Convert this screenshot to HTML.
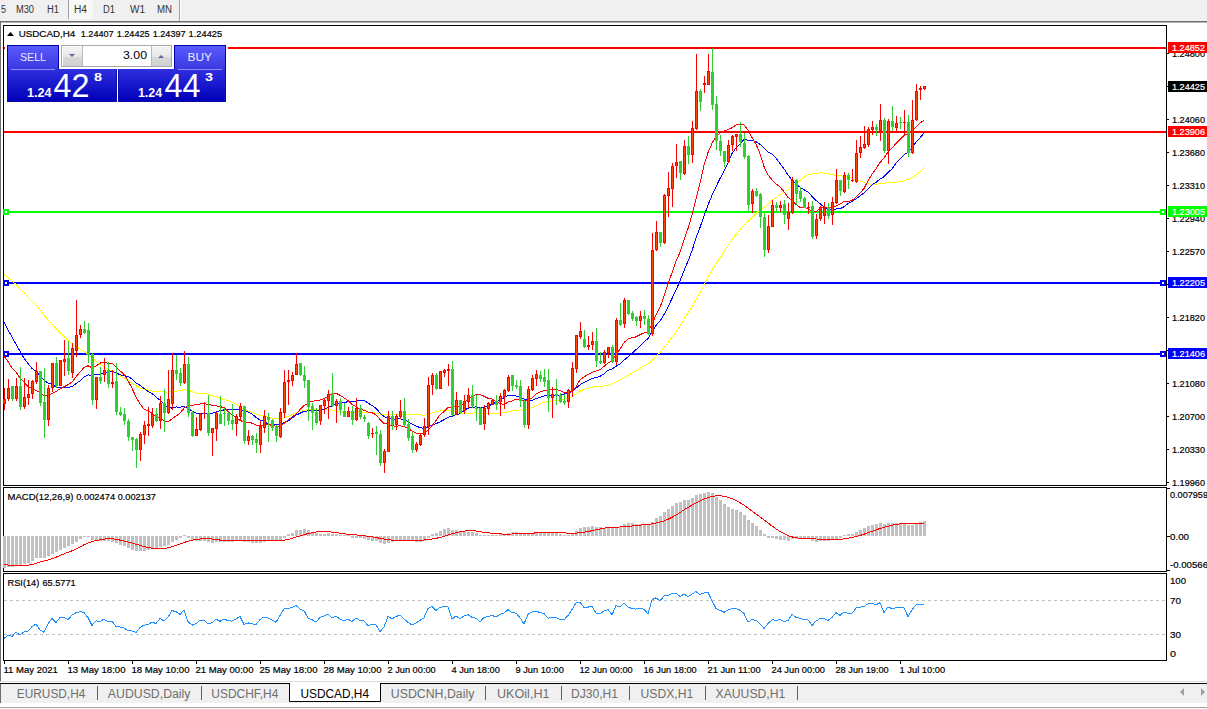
<!DOCTYPE html>
<html><head><meta charset="utf-8"><style>
html,body{margin:0;padding:0;background:#fff;}
body{width:1207px;height:709px;overflow:hidden;}
svg{display:block;font-family:"Liberation Sans", sans-serif;}
</style></head><body>
<svg width="1207" height="709" viewBox="0 0 1207 709">
<rect x="0" y="0" width="1207" height="709" fill="#ffffff"/>
<defs><linearGradient id="gtop" x1="0" y1="0" x2="0" y2="1"><stop offset="0" stop-color="#5a5aff"/><stop offset="1" stop-color="#3a3ae0"/></linearGradient><linearGradient id="gbot" x1="0" y1="0" x2="0" y2="1"><stop offset="0" stop-color="#3030e0"/><stop offset="1" stop-color="#0000b8"/></linearGradient><linearGradient id="gbtn" x1="0" y1="0" x2="0" y2="1"><stop offset="0" stop-color="#f4f4f4"/><stop offset="0.5" stop-color="#e6e6e6"/><stop offset="0.55" stop-color="#d8d8d8"/><stop offset="1" stop-color="#d0d0d0"/></linearGradient><pattern id="dash" x="4" y="0" width="6" height="1" patternUnits="userSpaceOnUse"><rect x="0" y="0" width="3" height="1" fill="#c0c0c0"/></pattern><pattern id="dither" x="0" y="0" width="2" height="2" patternUnits="userSpaceOnUse"><rect x="0" y="0" width="2" height="2" fill="#f0f0f0"/><rect x="0" y="0" width="1" height="1" fill="#ffffff"/><rect x="1" y="1" width="1" height="1" fill="#ffffff"/></pattern></defs>
<rect x="0" y="0" width="1207" height="21" fill="#f0f0f0"/>
<rect x="68" y="0" width="1" height="19" fill="#a0a0a0"/>
<rect x="69" y="0" width="24" height="19" fill="url(#dither)"/>
<rect x="179" y="0" width="1" height="21" fill="#a0a0a0"/>
<rect x="180" y="0" width="1" height="21" fill="#ffffff"/>
<rect x="0" y="21" width="1207" height="1" fill="#6e6e6e"/>
<rect x="0" y="22" width="1207" height="1" fill="#b4b4b4"/>
<text x="1" y="13" font-size="10" fill="#333" text-anchor="start" font-weight="normal" textLength="5.0" lengthAdjust="spacingAndGlyphs">5</text>
<text x="16" y="13" font-size="10" fill="#333" text-anchor="start" font-weight="normal" textLength="18.0" lengthAdjust="spacingAndGlyphs">M30</text>
<text x="47" y="13" font-size="10" fill="#333" text-anchor="start" font-weight="normal" textLength="12.0" lengthAdjust="spacingAndGlyphs">H1</text>
<text x="74" y="13" font-size="10" fill="#333" text-anchor="start" font-weight="normal" textLength="13.0" lengthAdjust="spacingAndGlyphs">H4</text>
<text x="103" y="13" font-size="10" fill="#333" text-anchor="start" font-weight="normal" textLength="12.0" lengthAdjust="spacingAndGlyphs">D1</text>
<text x="130" y="13" font-size="10" fill="#333" text-anchor="start" font-weight="normal" textLength="15.0" lengthAdjust="spacingAndGlyphs">W1</text>
<text x="157" y="13" font-size="10" fill="#333" text-anchor="start" font-weight="normal" textLength="15.0" lengthAdjust="spacingAndGlyphs">MN</text>
<rect x="0" y="22" width="1" height="659" fill="#6e6e6e"/>
<rect x="3.5" y="25.5" width="1163" height="460" fill="none" stroke="#000" stroke-width="1"/>
<rect x="3.5" y="487.5" width="1163" height="84" fill="none" stroke="#000" stroke-width="1"/>
<rect x="3.5" y="573.5" width="1163" height="87" fill="none" stroke="#000" stroke-width="1"/>
<rect x="1167" y="53" width="2" height="1" fill="#000"/>
<text x="1172" y="57" font-size="9.5" fill="#000" stroke="#000" stroke-width="0.2" text-anchor="start" font-weight="normal" textLength="33.0" lengthAdjust="spacingAndGlyphs">1.24800</text>
<rect x="1167" y="86" width="2" height="1" fill="#000"/>
<text x="1172" y="90" font-size="9.5" fill="#000" stroke="#000" stroke-width="0.2" text-anchor="start" font-weight="normal" textLength="33.0" lengthAdjust="spacingAndGlyphs">1.24430</text>
<rect x="1167" y="119" width="2" height="1" fill="#000"/>
<text x="1172" y="123" font-size="9.5" fill="#000" stroke="#000" stroke-width="0.2" text-anchor="start" font-weight="normal" textLength="33.0" lengthAdjust="spacingAndGlyphs">1.24060</text>
<rect x="1167" y="152" width="2" height="1" fill="#000"/>
<text x="1172" y="156" font-size="9.5" fill="#000" stroke="#000" stroke-width="0.2" text-anchor="start" font-weight="normal" textLength="33.0" lengthAdjust="spacingAndGlyphs">1.23680</text>
<rect x="1167" y="185" width="2" height="1" fill="#000"/>
<text x="1172" y="189" font-size="9.5" fill="#000" stroke="#000" stroke-width="0.2" text-anchor="start" font-weight="normal" textLength="33.0" lengthAdjust="spacingAndGlyphs">1.23310</text>
<rect x="1167" y="218" width="2" height="1" fill="#000"/>
<text x="1172" y="222" font-size="9.5" fill="#000" stroke="#000" stroke-width="0.2" text-anchor="start" font-weight="normal" textLength="33.0" lengthAdjust="spacingAndGlyphs">1.22940</text>
<rect x="1167" y="251" width="2" height="1" fill="#000"/>
<text x="1172" y="255" font-size="9.5" fill="#000" stroke="#000" stroke-width="0.2" text-anchor="start" font-weight="normal" textLength="33.0" lengthAdjust="spacingAndGlyphs">1.22570</text>
<rect x="1167" y="284" width="2" height="1" fill="#000"/>
<text x="1172" y="288" font-size="9.5" fill="#000" stroke="#000" stroke-width="0.2" text-anchor="start" font-weight="normal" textLength="33.0" lengthAdjust="spacingAndGlyphs">1.22200</text>
<rect x="1167" y="317" width="2" height="1" fill="#000"/>
<text x="1172" y="321" font-size="9.5" fill="#000" stroke="#000" stroke-width="0.2" text-anchor="start" font-weight="normal" textLength="33.0" lengthAdjust="spacingAndGlyphs">1.21820</text>
<rect x="1167" y="350" width="2" height="1" fill="#000"/>
<text x="1172" y="354" font-size="9.5" fill="#000" stroke="#000" stroke-width="0.2" text-anchor="start" font-weight="normal" textLength="33.0" lengthAdjust="spacingAndGlyphs">1.21450</text>
<rect x="1167" y="383" width="2" height="1" fill="#000"/>
<text x="1172" y="387" font-size="9.5" fill="#000" stroke="#000" stroke-width="0.2" text-anchor="start" font-weight="normal" textLength="33.0" lengthAdjust="spacingAndGlyphs">1.21080</text>
<rect x="1167" y="416" width="2" height="1" fill="#000"/>
<text x="1172" y="420" font-size="9.5" fill="#000" stroke="#000" stroke-width="0.2" text-anchor="start" font-weight="normal" textLength="33.0" lengthAdjust="spacingAndGlyphs">1.20700</text>
<rect x="1167" y="449" width="2" height="1" fill="#000"/>
<text x="1172" y="453" font-size="9.5" fill="#000" stroke="#000" stroke-width="0.2" text-anchor="start" font-weight="normal" textLength="33.0" lengthAdjust="spacingAndGlyphs">1.20330</text>
<rect x="1167" y="482" width="2" height="1" fill="#000"/>
<text x="1172" y="486" font-size="9.5" fill="#000" stroke="#000" stroke-width="0.2" text-anchor="start" font-weight="normal" textLength="33.0" lengthAdjust="spacingAndGlyphs">1.19960</text>
<g shape-rendering="crispEdges"><rect x="4" y="47" width="1162" height="2" fill="#ff0000"/><rect x="4" y="131" width="1162" height="2" fill="#ff0000"/><rect x="4" y="211" width="1162" height="2" fill="#00ff00"/><rect x="3" y="209" width="6" height="6" fill="#00ff00"/><rect x="5" y="211" width="2" height="2" fill="#fff"/><rect x="1160" y="209" width="6" height="6" fill="#00ff00"/><rect x="1162" y="211" width="2" height="2" fill="#fff"/><rect x="4" y="282" width="1162" height="2" fill="#0000ff"/><rect x="3" y="280" width="6" height="6" fill="#0000ff"/><rect x="5" y="282" width="2" height="2" fill="#fff"/><rect x="1160" y="280" width="6" height="6" fill="#0000ff"/><rect x="1162" y="282" width="2" height="2" fill="#fff"/><rect x="4" y="353" width="1162" height="2" fill="#0000ff"/><rect x="3" y="351" width="6" height="6" fill="#0000ff"/><rect x="5" y="353" width="2" height="2" fill="#fff"/><rect x="1160" y="351" width="6" height="6" fill="#0000ff"/><rect x="1162" y="353" width="2" height="2" fill="#fff"/></g>
<g shape-rendering="crispEdges"><polyline points="4,274.6 8,277.5 12,281.2 16,284.5 20,288.8 24,292.7 28,297.1 32,300.9 36,305.0 40,309.7 44,315.3 48,319.8 52,324.1 56,328.6 60,332.7 64,336.4 68,340.5 72,343.6 76,346.5 80,348.8 84,351.4 88,354.1 92,358.2 96,361.2 100,364.4 104,366.6 108,369.2 112,371.0 116,373.6 120,375.7 124,378.2 128,380.6 132,383.3 136,385.7 140,387.9 144,389.2 148,390.5 152,391.0 156,391.7 160,391.5 164,391.9 168,392.2 172,391.4 176,391.1 180,390.5 184,389.7 188,390.2 192,391.5 196,393.0 200,393.2 204,393.1 208,394.2 212,395.8 216,396.5 220,398.1 224,399.5 228,400.7 232,402.6 236,404.6 240,406.6 244,409.3 248,411.3 252,412.3 256,414.0 260,415.1 264,416.2 268,417.2 272,418.3 276,418.9 280,418.9 284,417.9 288,416.4 292,414.8 296,412.7 300,411.2 304,410.1 308,409.7 312,409.7 316,409.7 320,409.8 324,409.4 328,409.3 332,410.2 336,410.9 340,411.5 344,412.9 348,412.8 352,412.4 356,411.9 360,412.0 364,412.2 368,412.2 372,412.3 376,412.9 380,413.9 384,414.8 388,414.6 392,414.7 396,414.7 400,414.8 404,414.4 408,414.5 412,414.7 416,414.7 420,414.9 424,415.2 428,414.3 432,413.0 436,411.8 440,410.8 444,410.5 448,410.2 452,411.2 456,412.1 460,413.1 464,413.6 468,413.3 472,413.1 476,412.8 480,413.3 484,413.5 488,413.7 492,413.6 496,413.7 500,413.3 504,412.6 508,411.8 512,410.9 516,410.4 520,410.0 524,410.1 528,409.0 532,407.6 536,406.1 540,404.0 544,402.2 548,401.8 552,401.0 556,400.5 560,400.3 564,399.7 568,398.5 572,396.5 576,393.8 580,391.2 584,389.2 588,388.2 592,387.3 596,386.7 600,386.5 604,386.0 608,385.5 612,384.1 616,382.1 620,379.9 624,377.4 628,375.4 632,373.2 636,371.0 640,368.3 644,366.0 648,364.3 652,360.5 656,356.2 660,352.4 664,347.5 668,342.8 672,337.3 676,331.7 680,326.0 684,319.0 688,313.2 692,306.9 696,299.8 700,292.9 704,285.4 708,277.3 712,270.1 716,263.7 720,257.4 724,251.4 728,245.2 732,239.4 736,234.4 740,229.7 744,224.9 748,221.4 752,217.7 756,213.5 760,209.9 764,207.3 768,204.3 772,200.4 776,197.6 780,194.6 784,192.5 788,189.9 792,186.4 796,183.2 800,180.3 804,177.5 808,174.4 812,174.0 816,173.7 820,172.8 824,173.1 828,173.8 832,174.7 836,175.2 840,175.6 844,176.3 848,177.0 852,178.3 856,179.8 860,181.0 864,182.5 868,183.9 872,184.5 876,184.2 880,183.5 884,183.2 888,182.6 892,182.4 896,182.1 900,181.6 904,180.7 908,179.4 912,177.7 916,175.0 920,171.8 924,167.7" fill="none" stroke="#ffff00" stroke-width="1"/><polyline points="4,322.2 8,329.8 12,337.1 16,344.2 20,351.3 24,358.1 28,363.6 32,368.4 36,371.3 40,375.8 44,380.1 48,383.2 52,384.3 56,386.9 60,387.3 64,387.7 68,387.6 72,386.5 76,383.7 80,380.8 84,377.0 88,374.9 92,375.5 96,374.4 100,374.2 104,372.4 108,371.8 112,371.2 116,372.7 120,374.7 124,375.6 128,376.4 132,378.9 136,383.0 140,385.3 144,388.4 148,391.5 152,393.5 156,397.0 160,400.2 164,404.3 168,407.4 172,408.1 176,406.9 180,407.2 184,406.4 188,408.4 192,410.9 196,413.1 200,413.2 204,413.2 208,413.7 212,413.3 216,412.0 220,410.8 224,409.9 228,409.7 232,409.7 236,409.8 240,409.0 244,410.9 248,411.9 252,413.9 256,417.4 260,419.9 264,421.4 268,424.1 272,424.8 276,424.9 280,424.1 284,422.5 288,421.0 292,418.2 296,415.1 300,413.3 304,411.3 308,410.9 312,410.5 316,410.5 320,410.0 324,409.7 328,407.4 332,406.0 336,404.2 340,402.6 344,402.2 348,401.9 352,401.9 356,400.9 360,400.0 364,400.4 368,403.0 372,405.5 376,408.3 380,413.0 384,416.6 388,418.3 392,419.2 396,419.3 400,418.7 404,419.7 408,421.5 412,424.2 416,426.0 420,427.6 424,428.4 428,426.8 432,425.2 436,423.7 440,421.9 444,419.7 448,417.3 452,416.3 456,414.7 460,413.7 464,410.8 468,408.1 472,407.6 476,406.9 480,407.3 484,407.2 488,406.1 492,404.3 496,402.2 500,399.9 504,397.7 508,395.4 512,395.4 516,396.0 520,396.6 524,399.1 528,400.0 532,400.4 536,398.5 540,397.5 544,396.0 548,395.8 552,395.8 556,395.3 560,395.0 564,393.9 568,393.1 572,391.4 576,388.3 580,384.8 584,382.5 588,380.3 592,378.6 596,377.5 600,376.3 604,374.0 608,370.3 612,369.0 616,366.3 620,363.9 624,360.2 628,356.9 632,353.2 636,349.7 640,345.9 644,341.9 648,338.6 652,331.9 656,325.4 660,321.0 664,314.6 668,307.0 672,298.5 676,290.0 680,281.0 684,270.7 688,261.3 692,250.8 696,237.9 700,227.5 704,216.0 708,205.1 712,195.2 716,186.7 720,178.6 724,171.3 728,163.0 732,153.5 736,148.0 740,143.8 744,139.6 748,140.1 752,140.2 756,141.7 760,144.3 764,148.0 768,151.8 772,154.1 776,158.0 780,163.4 784,168.8 788,174.9 792,180.1 796,184.3 800,187.1 804,189.8 808,191.9 812,196.3 816,200.3 820,203.7 824,206.8 828,209.7 832,209.6 836,209.0 840,208.8 844,206.8 848,203.5 852,201.3 856,198.8 860,195.9 864,193.0 868,188.9 872,184.8 876,182.5 880,179.0 884,176.7 888,172.6 892,168.8 896,163.3 900,158.8 904,154.8 908,152.2 912,147.6 916,142.3 920,137.9 924,132.9" fill="none" stroke="#0000ff" stroke-width="1"/><polyline points="4,355.9 8,361.6 12,368.1 16,372.0 20,378.1 24,382.2 28,386.6 32,388.7 36,390.3 40,392.4 44,395.8 48,395.4 52,393.4 56,391.6 60,388.8 64,386.7 68,384.7 72,382.0 76,376.9 80,372.0 84,367.6 88,365.8 92,367.8 96,366.0 100,363.2 104,361.9 108,363.4 112,363.1 116,366.8 120,370.8 124,374.4 128,380.7 132,388.2 136,396.8 140,404.0 144,409.0 148,410.8 152,413.4 156,416.3 160,418.6 164,420.7 168,422.0 172,419.0 176,416.0 180,413.3 184,408.1 188,406.2 192,405.2 196,404.8 200,404.1 204,403.3 208,404.6 212,405.1 216,405.9 220,406.6 224,407.7 228,411.4 232,414.9 236,417.3 240,420.3 244,422.3 248,422.3 252,423.1 256,425.1 260,426.1 264,424.9 268,424.3 272,425.4 276,426.3 280,426.1 284,423.3 288,420.2 292,417.2 296,414.3 300,409.6 304,405.6 308,403.3 312,401.1 316,400.9 320,400.1 324,398.6 328,396.2 332,394.0 336,393.2 340,395.2 344,397.9 348,400.5 352,404.4 356,406.8 360,409.4 364,410.3 368,412.0 372,412.7 376,414.8 380,419.3 384,423.4 388,424.0 392,425.8 396,426.2 400,425.8 404,426.8 408,428.1 412,431.1 416,432.9 420,434.0 424,433.3 428,430.0 432,425.7 436,420.4 440,414.7 444,411.5 448,407.5 452,407.4 456,406.7 460,405.8 464,403.2 468,399.2 472,396.5 476,394.7 480,394.6 484,396.2 488,398.2 492,399.0 496,401.4 500,403.3 504,404.7 508,402.0 512,401.0 516,399.1 520,399.1 524,401.3 528,400.1 532,397.8 536,394.2 540,392.1 544,390.6 548,390.4 552,389.6 556,389.6 560,390.5 564,392.4 568,392.7 572,391.4 576,386.7 580,380.0 584,377.0 588,374.6 592,372.2 596,371.0 600,369.7 604,366.4 608,363.0 612,360.7 616,354.8 620,349.2 624,342.7 628,338.8 632,337.7 636,336.9 640,334.7 644,332.9 648,332.4 652,324.4 656,315.0 660,307.3 664,296.4 668,283.9 672,272.9 676,261.3 680,252.3 684,240.3 688,228.5 692,214.8 696,198.7 700,183.2 704,165.3 708,152.5 712,143.4 716,136.1 720,133.0 724,131.1 728,129.6 732,127.8 736,125.0 740,124.7 744,124.8 748,130.3 752,137.4 756,144.1 760,153.7 764,166.5 768,175.1 772,179.7 776,183.8 780,186.9 784,191.9 788,197.4 792,200.6 796,204.3 800,207.3 804,207.5 808,208.7 812,211.6 816,211.7 820,208.6 824,207.3 828,208.1 832,207.7 836,205.9 840,204.2 844,201.5 848,201.6 852,200.5 856,197.3 860,193.0 864,188.5 868,180.7 872,174.2 876,168.8 880,162.5 884,157.9 888,152.1 892,148.3 896,143.4 900,139.7 904,135.6 908,133.7 912,131.3 916,127.2 920,123.2 924,120.2" fill="none" stroke="#ff0000" stroke-width="1"/></g>
<g shape-rendering="crispEdges"><rect x="4" y="388" width="1" height="22" fill="#ff0000"/><rect x="3" y="399" width="3" height="5" fill="#ff0000"/><rect x="4" y="400" width="1" height="3" fill="#ff4500"/><rect x="8" y="379" width="1" height="22" fill="#ff0000"/><rect x="7" y="388" width="3" height="11" fill="#ff0000"/><rect x="8" y="389" width="1" height="9" fill="#ff4500"/><rect x="12" y="386" width="1" height="15" fill="#32cd32"/><rect x="11" y="386" width="3" height="13" fill="#32cd32"/><rect x="16" y="378" width="1" height="23" fill="#ff0000"/><rect x="15" y="386" width="3" height="13" fill="#ff0000"/><rect x="16" y="387" width="1" height="11" fill="#ff4500"/><rect x="20" y="367" width="1" height="43" fill="#32cd32"/><rect x="19" y="386" width="3" height="21" fill="#32cd32"/><rect x="24" y="378" width="1" height="31" fill="#ff0000"/><rect x="23" y="397" width="3" height="10" fill="#ff0000"/><rect x="24" y="398" width="1" height="8" fill="#ff4500"/><rect x="28" y="380" width="1" height="25" fill="#ff0000"/><rect x="27" y="394" width="3" height="4" fill="#ff0000"/><rect x="28" y="395" width="1" height="2" fill="#ff4500"/><rect x="32" y="380" width="1" height="19" fill="#ff0000"/><rect x="31" y="381" width="3" height="13" fill="#ff0000"/><rect x="32" y="382" width="1" height="11" fill="#ff4500"/><rect x="36" y="362" width="1" height="22" fill="#ff0000"/><rect x="35" y="371" width="3" height="11" fill="#ff0000"/><rect x="36" y="372" width="1" height="9" fill="#ff4500"/><rect x="40" y="371" width="1" height="35" fill="#32cd32"/><rect x="39" y="371" width="3" height="32" fill="#32cd32"/><rect x="44" y="368" width="1" height="70" fill="#32cd32"/><rect x="43" y="402" width="3" height="18" fill="#32cd32"/><rect x="48" y="385" width="1" height="41" fill="#ff0000"/><rect x="47" y="388" width="3" height="32" fill="#ff0000"/><rect x="48" y="389" width="1" height="30" fill="#ff4500"/><rect x="52" y="363" width="1" height="29" fill="#ff0000"/><rect x="51" y="363" width="3" height="25" fill="#ff0000"/><rect x="52" y="364" width="1" height="23" fill="#ff4500"/><rect x="56" y="357" width="1" height="31" fill="#32cd32"/><rect x="55" y="363" width="3" height="23" fill="#32cd32"/><rect x="60" y="360" width="1" height="26" fill="#ff0000"/><rect x="59" y="360" width="3" height="26" fill="#ff0000"/><rect x="60" y="361" width="1" height="24" fill="#ff4500"/><rect x="64" y="340" width="1" height="36" fill="#ff0000"/><rect x="63" y="359" width="3" height="3" fill="#ff0000"/><rect x="64" y="360" width="1" height="1" fill="#ff4500"/><rect x="68" y="341" width="1" height="34" fill="#32cd32"/><rect x="67" y="358" width="3" height="13" fill="#32cd32"/><rect x="72" y="343" width="1" height="35" fill="#ff0000"/><rect x="71" y="348" width="3" height="25" fill="#ff0000"/><rect x="72" y="349" width="1" height="23" fill="#ff4500"/><rect x="76" y="300" width="1" height="57" fill="#ff0000"/><rect x="75" y="335" width="3" height="16" fill="#ff0000"/><rect x="76" y="336" width="1" height="14" fill="#ff4500"/><rect x="80" y="325" width="1" height="13" fill="#ff0000"/><rect x="79" y="329" width="3" height="6" fill="#ff0000"/><rect x="80" y="330" width="1" height="4" fill="#ff4500"/><rect x="84" y="321" width="1" height="13" fill="#32cd32"/><rect x="83" y="329" width="3" height="4" fill="#32cd32"/><rect x="88" y="323" width="1" height="40" fill="#32cd32"/><rect x="87" y="330" width="3" height="25" fill="#32cd32"/><rect x="92" y="353" width="1" height="52" fill="#32cd32"/><rect x="91" y="354" width="3" height="46" fill="#32cd32"/><rect x="96" y="377" width="1" height="32" fill="#ff0000"/><rect x="95" y="377" width="3" height="23" fill="#ff0000"/><rect x="96" y="378" width="1" height="21" fill="#ff4500"/><rect x="100" y="367" width="1" height="17" fill="#32cd32"/><rect x="99" y="377" width="3" height="4" fill="#32cd32"/><rect x="104" y="358" width="1" height="24" fill="#ff0000"/><rect x="103" y="370" width="3" height="5" fill="#ff0000"/><rect x="104" y="371" width="1" height="3" fill="#ff4500"/><rect x="108" y="362" width="1" height="26" fill="#32cd32"/><rect x="107" y="370" width="3" height="14" fill="#32cd32"/><rect x="112" y="370" width="1" height="18" fill="#ff0000"/><rect x="111" y="382" width="3" height="2" fill="#ff0000"/><rect x="116" y="363" width="1" height="52" fill="#32cd32"/><rect x="115" y="381" width="3" height="31" fill="#32cd32"/><rect x="120" y="407" width="1" height="9" fill="#32cd32"/><rect x="119" y="412" width="3" height="3" fill="#32cd32"/><rect x="124" y="408" width="1" height="17" fill="#32cd32"/><rect x="123" y="414" width="3" height="7" fill="#32cd32"/><rect x="128" y="419" width="1" height="22" fill="#32cd32"/><rect x="127" y="421" width="3" height="16" fill="#32cd32"/><rect x="132" y="437" width="1" height="14" fill="#32cd32"/><rect x="131" y="437" width="3" height="3" fill="#32cd32"/><rect x="136" y="438" width="1" height="30" fill="#32cd32"/><rect x="135" y="439" width="3" height="11" fill="#32cd32"/><rect x="140" y="432" width="1" height="29" fill="#ff0000"/><rect x="139" y="434" width="3" height="16" fill="#ff0000"/><rect x="140" y="435" width="1" height="14" fill="#ff4500"/><rect x="144" y="421" width="1" height="23" fill="#ff0000"/><rect x="143" y="425" width="3" height="10" fill="#ff0000"/><rect x="144" y="426" width="1" height="8" fill="#ff4500"/><rect x="148" y="407" width="1" height="29" fill="#ff0000"/><rect x="147" y="424" width="3" height="2" fill="#ff0000"/><rect x="152" y="408" width="1" height="20" fill="#ff0000"/><rect x="151" y="414" width="3" height="12" fill="#ff0000"/><rect x="152" y="415" width="1" height="10" fill="#ff4500"/><rect x="156" y="408" width="1" height="14" fill="#32cd32"/><rect x="155" y="414" width="3" height="7" fill="#32cd32"/><rect x="160" y="396" width="1" height="33" fill="#ff0000"/><rect x="159" y="403" width="3" height="18" fill="#ff0000"/><rect x="160" y="404" width="1" height="16" fill="#ff4500"/><rect x="164" y="389" width="1" height="43" fill="#32cd32"/><rect x="163" y="403" width="3" height="10" fill="#32cd32"/><rect x="168" y="370" width="1" height="44" fill="#ff0000"/><rect x="167" y="399" width="3" height="14" fill="#ff0000"/><rect x="168" y="400" width="1" height="12" fill="#ff4500"/><rect x="172" y="353" width="1" height="57" fill="#ff0000"/><rect x="171" y="370" width="3" height="34" fill="#ff0000"/><rect x="172" y="371" width="1" height="32" fill="#ff4500"/><rect x="176" y="355" width="1" height="25" fill="#32cd32"/><rect x="175" y="370" width="3" height="4" fill="#32cd32"/><rect x="180" y="368" width="1" height="18" fill="#32cd32"/><rect x="179" y="373" width="3" height="10" fill="#32cd32"/><rect x="184" y="351" width="1" height="33" fill="#ff0000"/><rect x="183" y="364" width="3" height="19" fill="#ff0000"/><rect x="184" y="365" width="1" height="17" fill="#ff4500"/><rect x="188" y="357" width="1" height="60" fill="#32cd32"/><rect x="187" y="364" width="3" height="49" fill="#32cd32"/><rect x="192" y="411" width="1" height="26" fill="#32cd32"/><rect x="191" y="412" width="3" height="24" fill="#32cd32"/><rect x="196" y="417" width="1" height="19" fill="#ff0000"/><rect x="195" y="429" width="3" height="7" fill="#ff0000"/><rect x="196" y="430" width="1" height="5" fill="#ff4500"/><rect x="200" y="413" width="1" height="18" fill="#ff0000"/><rect x="199" y="414" width="3" height="16" fill="#ff0000"/><rect x="200" y="415" width="1" height="14" fill="#ff4500"/><rect x="204" y="402" width="1" height="17" fill="#ff0000"/><rect x="203" y="413" width="3" height="1" fill="#ff0000"/><rect x="208" y="395" width="1" height="41" fill="#32cd32"/><rect x="207" y="413" width="3" height="20" fill="#32cd32"/><rect x="212" y="428" width="1" height="28" fill="#ff0000"/><rect x="211" y="428" width="3" height="5" fill="#ff0000"/><rect x="212" y="429" width="1" height="3" fill="#ff4500"/><rect x="216" y="412" width="1" height="29" fill="#ff0000"/><rect x="215" y="413" width="3" height="16" fill="#ff0000"/><rect x="216" y="414" width="1" height="14" fill="#ff4500"/><rect x="220" y="396" width="1" height="28" fill="#32cd32"/><rect x="219" y="414" width="3" height="10" fill="#32cd32"/><rect x="224" y="408" width="1" height="18" fill="#32cd32"/><rect x="223" y="413" width="3" height="1" fill="#32cd32"/><rect x="228" y="412" width="1" height="13" fill="#32cd32"/><rect x="227" y="413" width="3" height="8" fill="#32cd32"/><rect x="232" y="404" width="1" height="26" fill="#32cd32"/><rect x="231" y="420" width="3" height="4" fill="#32cd32"/><rect x="236" y="414" width="1" height="22" fill="#ff0000"/><rect x="235" y="416" width="3" height="8" fill="#ff0000"/><rect x="236" y="417" width="1" height="6" fill="#ff4500"/><rect x="240" y="403" width="1" height="18" fill="#ff0000"/><rect x="239" y="406" width="3" height="11" fill="#ff0000"/><rect x="240" y="407" width="1" height="9" fill="#ff4500"/><rect x="244" y="406" width="1" height="38" fill="#32cd32"/><rect x="243" y="406" width="3" height="35" fill="#32cd32"/><rect x="248" y="430" width="1" height="15" fill="#ff0000"/><rect x="247" y="436" width="3" height="5" fill="#ff0000"/><rect x="248" y="437" width="1" height="3" fill="#ff4500"/><rect x="252" y="435" width="1" height="10" fill="#32cd32"/><rect x="251" y="436" width="3" height="4" fill="#32cd32"/><rect x="256" y="433" width="1" height="20" fill="#32cd32"/><rect x="255" y="439" width="3" height="4" fill="#32cd32"/><rect x="260" y="421" width="1" height="32" fill="#ff0000"/><rect x="259" y="426" width="3" height="19" fill="#ff0000"/><rect x="260" y="427" width="1" height="17" fill="#ff4500"/><rect x="264" y="410" width="1" height="23" fill="#ff0000"/><rect x="263" y="416" width="3" height="12" fill="#ff0000"/><rect x="264" y="417" width="1" height="10" fill="#ff4500"/><rect x="268" y="413" width="1" height="29" fill="#32cd32"/><rect x="267" y="417" width="3" height="3" fill="#32cd32"/><rect x="272" y="419" width="1" height="12" fill="#32cd32"/><rect x="271" y="420" width="3" height="8" fill="#32cd32"/><rect x="276" y="425" width="1" height="17" fill="#32cd32"/><rect x="275" y="426" width="3" height="10" fill="#32cd32"/><rect x="280" y="408" width="1" height="30" fill="#ff0000"/><rect x="279" y="412" width="3" height="25" fill="#ff0000"/><rect x="280" y="413" width="1" height="23" fill="#ff4500"/><rect x="284" y="370" width="1" height="48" fill="#ff0000"/><rect x="283" y="382" width="3" height="31" fill="#ff0000"/><rect x="284" y="383" width="1" height="29" fill="#ff4500"/><rect x="288" y="370" width="1" height="35" fill="#ff0000"/><rect x="287" y="380" width="3" height="2" fill="#ff0000"/><rect x="292" y="372" width="1" height="14" fill="#ff0000"/><rect x="291" y="375" width="3" height="6" fill="#ff0000"/><rect x="292" y="376" width="1" height="4" fill="#ff4500"/><rect x="296" y="353" width="1" height="22" fill="#ff0000"/><rect x="295" y="364" width="3" height="11" fill="#ff0000"/><rect x="296" y="365" width="1" height="9" fill="#ff4500"/><rect x="300" y="363" width="1" height="13" fill="#32cd32"/><rect x="299" y="363" width="3" height="12" fill="#32cd32"/><rect x="304" y="366" width="1" height="22" fill="#32cd32"/><rect x="303" y="375" width="3" height="6" fill="#32cd32"/><rect x="308" y="380" width="1" height="41" fill="#32cd32"/><rect x="307" y="380" width="3" height="27" fill="#32cd32"/><rect x="312" y="403" width="1" height="27" fill="#32cd32"/><rect x="311" y="406" width="3" height="7" fill="#32cd32"/><rect x="316" y="408" width="1" height="17" fill="#32cd32"/><rect x="315" y="412" width="3" height="11" fill="#32cd32"/><rect x="320" y="405" width="1" height="20" fill="#ff0000"/><rect x="319" y="405" width="3" height="16" fill="#ff0000"/><rect x="320" y="406" width="1" height="14" fill="#ff4500"/><rect x="324" y="398" width="1" height="16" fill="#ff0000"/><rect x="323" y="400" width="3" height="6" fill="#ff0000"/><rect x="324" y="401" width="1" height="4" fill="#ff4500"/><rect x="328" y="390" width="1" height="29" fill="#ff0000"/><rect x="327" y="394" width="3" height="7" fill="#ff0000"/><rect x="328" y="395" width="1" height="5" fill="#ff4500"/><rect x="332" y="373" width="1" height="34" fill="#32cd32"/><rect x="331" y="393" width="3" height="13" fill="#32cd32"/><rect x="336" y="399" width="1" height="24" fill="#ff0000"/><rect x="335" y="401" width="3" height="5" fill="#ff0000"/><rect x="336" y="402" width="1" height="3" fill="#ff4500"/><rect x="340" y="398" width="1" height="17" fill="#32cd32"/><rect x="339" y="401" width="3" height="9" fill="#32cd32"/><rect x="344" y="403" width="1" height="14" fill="#32cd32"/><rect x="343" y="411" width="3" height="6" fill="#32cd32"/><rect x="348" y="407" width="1" height="10" fill="#ff0000"/><rect x="347" y="411" width="3" height="6" fill="#ff0000"/><rect x="348" y="412" width="1" height="4" fill="#ff4500"/><rect x="352" y="406" width="1" height="19" fill="#32cd32"/><rect x="351" y="411" width="3" height="9" fill="#32cd32"/><rect x="356" y="398" width="1" height="23" fill="#ff0000"/><rect x="355" y="408" width="3" height="12" fill="#ff0000"/><rect x="356" y="409" width="1" height="10" fill="#ff4500"/><rect x="360" y="405" width="1" height="14" fill="#32cd32"/><rect x="359" y="408" width="3" height="9" fill="#32cd32"/><rect x="364" y="415" width="1" height="7" fill="#32cd32"/><rect x="363" y="417" width="3" height="2" fill="#32cd32"/><rect x="368" y="422" width="1" height="17" fill="#32cd32"/><rect x="367" y="423" width="3" height="13" fill="#32cd32"/><rect x="372" y="428" width="1" height="10" fill="#ff0000"/><rect x="371" y="433" width="3" height="1" fill="#ff0000"/><rect x="376" y="426" width="1" height="29" fill="#32cd32"/><rect x="375" y="432" width="3" height="2" fill="#32cd32"/><rect x="380" y="430" width="1" height="36" fill="#32cd32"/><rect x="379" y="434" width="3" height="29" fill="#32cd32"/><rect x="384" y="449" width="1" height="24" fill="#ff0000"/><rect x="383" y="451" width="3" height="12" fill="#ff0000"/><rect x="384" y="452" width="1" height="10" fill="#ff4500"/><rect x="388" y="411" width="1" height="41" fill="#ff0000"/><rect x="387" y="416" width="3" height="36" fill="#ff0000"/><rect x="388" y="417" width="1" height="34" fill="#ff4500"/><rect x="392" y="411" width="1" height="19" fill="#32cd32"/><rect x="391" y="416" width="3" height="9" fill="#32cd32"/><rect x="396" y="414" width="1" height="16" fill="#ff0000"/><rect x="395" y="416" width="3" height="9" fill="#ff0000"/><rect x="396" y="417" width="1" height="7" fill="#ff4500"/><rect x="400" y="400" width="1" height="19" fill="#ff0000"/><rect x="399" y="411" width="3" height="6" fill="#ff0000"/><rect x="400" y="412" width="1" height="4" fill="#ff4500"/><rect x="404" y="398" width="1" height="28" fill="#32cd32"/><rect x="403" y="411" width="3" height="14" fill="#32cd32"/><rect x="408" y="419" width="1" height="22" fill="#32cd32"/><rect x="407" y="424" width="3" height="14" fill="#32cd32"/><rect x="412" y="432" width="1" height="21" fill="#32cd32"/><rect x="411" y="436" width="3" height="14" fill="#32cd32"/><rect x="416" y="442" width="1" height="10" fill="#ff0000"/><rect x="415" y="444" width="3" height="6" fill="#ff0000"/><rect x="416" y="445" width="1" height="4" fill="#ff4500"/><rect x="420" y="434" width="1" height="12" fill="#ff0000"/><rect x="419" y="435" width="3" height="10" fill="#ff0000"/><rect x="420" y="436" width="1" height="8" fill="#ff4500"/><rect x="424" y="418" width="1" height="19" fill="#ff0000"/><rect x="423" y="426" width="3" height="9" fill="#ff0000"/><rect x="424" y="427" width="1" height="7" fill="#ff4500"/><rect x="428" y="377" width="1" height="58" fill="#ff0000"/><rect x="427" y="385" width="3" height="42" fill="#ff0000"/><rect x="428" y="386" width="1" height="40" fill="#ff4500"/><rect x="432" y="373" width="1" height="22" fill="#ff0000"/><rect x="431" y="375" width="3" height="10" fill="#ff0000"/><rect x="432" y="376" width="1" height="8" fill="#ff4500"/><rect x="436" y="373" width="1" height="17" fill="#32cd32"/><rect x="435" y="375" width="3" height="14" fill="#32cd32"/><rect x="440" y="371" width="1" height="18" fill="#ff0000"/><rect x="439" y="371" width="3" height="18" fill="#ff0000"/><rect x="440" y="372" width="1" height="16" fill="#ff4500"/><rect x="444" y="369" width="1" height="8" fill="#ff0000"/><rect x="443" y="370" width="3" height="3" fill="#ff0000"/><rect x="444" y="371" width="1" height="1" fill="#ff4500"/><rect x="448" y="364" width="1" height="22" fill="#ff0000"/><rect x="447" y="369" width="3" height="2" fill="#ff0000"/><rect x="452" y="361" width="1" height="55" fill="#32cd32"/><rect x="451" y="369" width="3" height="46" fill="#32cd32"/><rect x="456" y="392" width="1" height="23" fill="#ff0000"/><rect x="455" y="400" width="3" height="14" fill="#ff0000"/><rect x="456" y="401" width="1" height="12" fill="#ff4500"/><rect x="460" y="400" width="1" height="14" fill="#32cd32"/><rect x="459" y="400" width="3" height="13" fill="#32cd32"/><rect x="464" y="395" width="1" height="19" fill="#ff0000"/><rect x="463" y="401" width="3" height="10" fill="#ff0000"/><rect x="464" y="402" width="1" height="8" fill="#ff4500"/><rect x="468" y="388" width="1" height="20" fill="#ff0000"/><rect x="467" y="395" width="3" height="7" fill="#ff0000"/><rect x="468" y="396" width="1" height="5" fill="#ff4500"/><rect x="472" y="385" width="1" height="23" fill="#32cd32"/><rect x="471" y="395" width="3" height="11" fill="#32cd32"/><rect x="476" y="395" width="1" height="26" fill="#32cd32"/><rect x="475" y="408" width="3" height="1" fill="#32cd32"/><rect x="480" y="407" width="1" height="18" fill="#32cd32"/><rect x="479" y="408" width="3" height="17" fill="#32cd32"/><rect x="484" y="405" width="1" height="25" fill="#ff0000"/><rect x="483" y="408" width="3" height="16" fill="#ff0000"/><rect x="484" y="409" width="1" height="14" fill="#ff4500"/><rect x="488" y="402" width="1" height="13" fill="#ff0000"/><rect x="487" y="403" width="3" height="6" fill="#ff0000"/><rect x="488" y="404" width="1" height="4" fill="#ff4500"/><rect x="492" y="400" width="1" height="5" fill="#ff0000"/><rect x="491" y="400" width="3" height="5" fill="#ff0000"/><rect x="492" y="401" width="1" height="3" fill="#ff4500"/><rect x="496" y="395" width="1" height="15" fill="#32cd32"/><rect x="495" y="401" width="3" height="4" fill="#32cd32"/><rect x="500" y="393" width="1" height="23" fill="#ff0000"/><rect x="499" y="396" width="3" height="6" fill="#ff0000"/><rect x="500" y="397" width="1" height="4" fill="#ff4500"/><rect x="504" y="389" width="1" height="20" fill="#ff0000"/><rect x="503" y="390" width="3" height="7" fill="#ff0000"/><rect x="504" y="391" width="1" height="5" fill="#ff4500"/><rect x="508" y="375" width="1" height="17" fill="#ff0000"/><rect x="507" y="377" width="3" height="14" fill="#ff0000"/><rect x="508" y="378" width="1" height="12" fill="#ff4500"/><rect x="512" y="375" width="1" height="16" fill="#32cd32"/><rect x="511" y="375" width="3" height="11" fill="#32cd32"/><rect x="516" y="380" width="1" height="9" fill="#32cd32"/><rect x="515" y="385" width="3" height="2" fill="#32cd32"/><rect x="520" y="380" width="1" height="27" fill="#32cd32"/><rect x="519" y="386" width="3" height="15" fill="#32cd32"/><rect x="524" y="400" width="1" height="28" fill="#32cd32"/><rect x="523" y="401" width="3" height="24" fill="#32cd32"/><rect x="528" y="386" width="1" height="43" fill="#ff0000"/><rect x="527" y="389" width="3" height="36" fill="#ff0000"/><rect x="528" y="390" width="1" height="34" fill="#ff4500"/><rect x="532" y="375" width="1" height="16" fill="#ff0000"/><rect x="531" y="378" width="3" height="12" fill="#ff0000"/><rect x="532" y="379" width="1" height="10" fill="#ff4500"/><rect x="536" y="370" width="1" height="16" fill="#ff0000"/><rect x="535" y="374" width="3" height="5" fill="#ff0000"/><rect x="536" y="375" width="1" height="3" fill="#ff4500"/><rect x="540" y="371" width="1" height="11" fill="#32cd32"/><rect x="539" y="375" width="3" height="4" fill="#32cd32"/><rect x="544" y="369" width="1" height="18" fill="#32cd32"/><rect x="543" y="377" width="3" height="5" fill="#32cd32"/><rect x="548" y="369" width="1" height="43" fill="#32cd32"/><rect x="547" y="380" width="3" height="18" fill="#32cd32"/><rect x="552" y="387" width="1" height="31" fill="#ff0000"/><rect x="551" y="394" width="3" height="4" fill="#ff0000"/><rect x="552" y="395" width="1" height="2" fill="#ff4500"/><rect x="556" y="379" width="1" height="26" fill="#32cd32"/><rect x="555" y="394" width="3" height="2" fill="#32cd32"/><rect x="560" y="393" width="1" height="10" fill="#32cd32"/><rect x="559" y="395" width="3" height="7" fill="#32cd32"/><rect x="564" y="394" width="1" height="11" fill="#32cd32"/><rect x="563" y="401" width="3" height="2" fill="#32cd32"/><rect x="568" y="389" width="1" height="19" fill="#ff0000"/><rect x="567" y="390" width="3" height="12" fill="#ff0000"/><rect x="568" y="391" width="1" height="10" fill="#ff4500"/><rect x="572" y="362" width="1" height="35" fill="#ff0000"/><rect x="571" y="368" width="3" height="23" fill="#ff0000"/><rect x="572" y="369" width="1" height="21" fill="#ff4500"/><rect x="576" y="335" width="1" height="38" fill="#ff0000"/><rect x="575" y="335" width="3" height="34" fill="#ff0000"/><rect x="576" y="336" width="1" height="32" fill="#ff4500"/><rect x="580" y="322" width="1" height="17" fill="#ff0000"/><rect x="579" y="331" width="3" height="6" fill="#ff0000"/><rect x="580" y="332" width="1" height="4" fill="#ff4500"/><rect x="584" y="330" width="1" height="18" fill="#32cd32"/><rect x="583" y="339" width="3" height="8" fill="#32cd32"/><rect x="588" y="336" width="1" height="14" fill="#ff0000"/><rect x="587" y="345" width="3" height="2" fill="#ff0000"/><rect x="592" y="332" width="1" height="18" fill="#ff0000"/><rect x="591" y="341" width="3" height="4" fill="#ff0000"/><rect x="592" y="342" width="1" height="2" fill="#ff4500"/><rect x="596" y="328" width="1" height="39" fill="#32cd32"/><rect x="595" y="341" width="3" height="20" fill="#32cd32"/><rect x="600" y="352" width="1" height="12" fill="#32cd32"/><rect x="599" y="361" width="3" height="2" fill="#32cd32"/><rect x="604" y="350" width="1" height="14" fill="#ff0000"/><rect x="603" y="352" width="3" height="11" fill="#ff0000"/><rect x="604" y="353" width="1" height="9" fill="#ff4500"/><rect x="608" y="347" width="1" height="11" fill="#ff0000"/><rect x="607" y="347" width="3" height="6" fill="#ff0000"/><rect x="608" y="348" width="1" height="4" fill="#ff4500"/><rect x="612" y="345" width="1" height="18" fill="#32cd32"/><rect x="611" y="347" width="3" height="15" fill="#32cd32"/><rect x="616" y="318" width="1" height="47" fill="#ff0000"/><rect x="615" y="320" width="3" height="42" fill="#ff0000"/><rect x="616" y="321" width="1" height="40" fill="#ff4500"/><rect x="620" y="303" width="1" height="23" fill="#32cd32"/><rect x="619" y="320" width="3" height="5" fill="#32cd32"/><rect x="624" y="298" width="1" height="30" fill="#ff0000"/><rect x="623" y="300" width="3" height="24" fill="#ff0000"/><rect x="624" y="301" width="1" height="22" fill="#ff4500"/><rect x="628" y="300" width="1" height="15" fill="#32cd32"/><rect x="627" y="300" width="3" height="14" fill="#32cd32"/><rect x="632" y="311" width="1" height="10" fill="#32cd32"/><rect x="631" y="313" width="3" height="6" fill="#32cd32"/><rect x="636" y="316" width="1" height="10" fill="#32cd32"/><rect x="635" y="317" width="3" height="4" fill="#32cd32"/><rect x="640" y="311" width="1" height="17" fill="#ff0000"/><rect x="639" y="316" width="3" height="5" fill="#ff0000"/><rect x="640" y="317" width="1" height="3" fill="#ff4500"/><rect x="644" y="310" width="1" height="15" fill="#32cd32"/><rect x="643" y="316" width="3" height="3" fill="#32cd32"/><rect x="648" y="315" width="1" height="20" fill="#32cd32"/><rect x="647" y="319" width="3" height="15" fill="#32cd32"/><rect x="652" y="233" width="1" height="103" fill="#ff0000"/><rect x="651" y="250" width="3" height="84" fill="#ff0000"/><rect x="652" y="251" width="1" height="82" fill="#ff4500"/><rect x="656" y="221" width="1" height="30" fill="#ff0000"/><rect x="655" y="232" width="3" height="18" fill="#ff0000"/><rect x="656" y="233" width="1" height="16" fill="#ff4500"/><rect x="660" y="232" width="1" height="15" fill="#32cd32"/><rect x="659" y="232" width="3" height="11" fill="#32cd32"/><rect x="664" y="194" width="1" height="50" fill="#ff0000"/><rect x="663" y="195" width="3" height="48" fill="#ff0000"/><rect x="664" y="196" width="1" height="46" fill="#ff4500"/><rect x="668" y="172" width="1" height="45" fill="#ff0000"/><rect x="667" y="188" width="3" height="8" fill="#ff0000"/><rect x="668" y="189" width="1" height="6" fill="#ff4500"/><rect x="672" y="163" width="1" height="44" fill="#ff0000"/><rect x="671" y="166" width="3" height="23" fill="#ff0000"/><rect x="672" y="167" width="1" height="21" fill="#ff4500"/><rect x="676" y="144" width="1" height="34" fill="#ff0000"/><rect x="675" y="162" width="3" height="4" fill="#ff0000"/><rect x="676" y="163" width="1" height="2" fill="#ff4500"/><rect x="680" y="161" width="1" height="19" fill="#32cd32"/><rect x="679" y="161" width="3" height="12" fill="#32cd32"/><rect x="684" y="140" width="1" height="35" fill="#ff0000"/><rect x="683" y="146" width="3" height="28" fill="#ff0000"/><rect x="684" y="147" width="1" height="26" fill="#ff4500"/><rect x="688" y="136" width="1" height="28" fill="#32cd32"/><rect x="687" y="146" width="3" height="9" fill="#32cd32"/><rect x="692" y="121" width="1" height="42" fill="#ff0000"/><rect x="691" y="128" width="3" height="27" fill="#ff0000"/><rect x="692" y="129" width="1" height="25" fill="#ff4500"/><rect x="696" y="54" width="1" height="76" fill="#ff0000"/><rect x="695" y="91" width="3" height="38" fill="#ff0000"/><rect x="696" y="92" width="1" height="36" fill="#ff4500"/><rect x="700" y="89" width="1" height="22" fill="#32cd32"/><rect x="699" y="91" width="3" height="11" fill="#32cd32"/><rect x="704" y="76" width="1" height="17" fill="#ff0000"/><rect x="703" y="83" width="3" height="2" fill="#ff0000"/><rect x="708" y="54" width="1" height="31" fill="#ff0000"/><rect x="707" y="71" width="3" height="14" fill="#ff0000"/><rect x="708" y="72" width="1" height="12" fill="#ff4500"/><rect x="712" y="48" width="1" height="62" fill="#32cd32"/><rect x="711" y="72" width="3" height="33" fill="#32cd32"/><rect x="716" y="96" width="1" height="54" fill="#32cd32"/><rect x="715" y="104" width="3" height="37" fill="#32cd32"/><rect x="720" y="135" width="1" height="21" fill="#32cd32"/><rect x="719" y="141" width="3" height="10" fill="#32cd32"/><rect x="724" y="151" width="1" height="16" fill="#32cd32"/><rect x="723" y="151" width="3" height="11" fill="#32cd32"/><rect x="728" y="140" width="1" height="23" fill="#ff0000"/><rect x="727" y="145" width="3" height="17" fill="#ff0000"/><rect x="728" y="146" width="1" height="15" fill="#ff4500"/><rect x="732" y="135" width="1" height="16" fill="#ff0000"/><rect x="731" y="136" width="3" height="9" fill="#ff0000"/><rect x="732" y="137" width="1" height="7" fill="#ff4500"/><rect x="736" y="134" width="1" height="17" fill="#ff0000"/><rect x="735" y="134" width="3" height="3" fill="#ff0000"/><rect x="736" y="135" width="1" height="1" fill="#ff4500"/><rect x="740" y="122" width="1" height="25" fill="#32cd32"/><rect x="739" y="134" width="3" height="8" fill="#32cd32"/><rect x="744" y="133" width="1" height="26" fill="#32cd32"/><rect x="743" y="143" width="3" height="14" fill="#32cd32"/><rect x="748" y="155" width="1" height="56" fill="#32cd32"/><rect x="747" y="156" width="3" height="49" fill="#32cd32"/><rect x="752" y="189" width="1" height="24" fill="#ff0000"/><rect x="751" y="191" width="3" height="13" fill="#ff0000"/><rect x="752" y="192" width="1" height="11" fill="#ff4500"/><rect x="756" y="188" width="1" height="9" fill="#32cd32"/><rect x="755" y="191" width="3" height="5" fill="#32cd32"/><rect x="760" y="193" width="1" height="35" fill="#32cd32"/><rect x="759" y="194" width="3" height="23" fill="#32cd32"/><rect x="764" y="213" width="1" height="44" fill="#32cd32"/><rect x="763" y="217" width="3" height="33" fill="#32cd32"/><rect x="768" y="215" width="1" height="38" fill="#ff0000"/><rect x="767" y="226" width="3" height="24" fill="#ff0000"/><rect x="768" y="227" width="1" height="22" fill="#ff4500"/><rect x="772" y="200" width="1" height="27" fill="#ff0000"/><rect x="771" y="205" width="3" height="22" fill="#ff0000"/><rect x="772" y="206" width="1" height="20" fill="#ff4500"/><rect x="776" y="202" width="1" height="11" fill="#32cd32"/><rect x="775" y="205" width="3" height="3" fill="#32cd32"/><rect x="780" y="201" width="1" height="11" fill="#ff0000"/><rect x="779" y="205" width="3" height="3" fill="#ff0000"/><rect x="780" y="206" width="1" height="1" fill="#ff4500"/><rect x="784" y="200" width="1" height="24" fill="#32cd32"/><rect x="783" y="204" width="3" height="11" fill="#32cd32"/><rect x="788" y="203" width="1" height="27" fill="#ff0000"/><rect x="787" y="212" width="3" height="7" fill="#ff0000"/><rect x="788" y="213" width="1" height="5" fill="#ff4500"/><rect x="792" y="177" width="1" height="37" fill="#ff0000"/><rect x="791" y="180" width="3" height="33" fill="#ff0000"/><rect x="792" y="181" width="1" height="31" fill="#ff4500"/><rect x="796" y="179" width="1" height="26" fill="#32cd32"/><rect x="795" y="180" width="3" height="14" fill="#32cd32"/><rect x="800" y="187" width="1" height="15" fill="#32cd32"/><rect x="799" y="191" width="3" height="8" fill="#32cd32"/><rect x="804" y="197" width="1" height="11" fill="#32cd32"/><rect x="803" y="198" width="3" height="10" fill="#32cd32"/><rect x="808" y="202" width="1" height="12" fill="#ff0000"/><rect x="807" y="207" width="3" height="1" fill="#ff0000"/><rect x="812" y="201" width="1" height="38" fill="#32cd32"/><rect x="811" y="206" width="3" height="31" fill="#32cd32"/><rect x="816" y="214" width="1" height="25" fill="#ff0000"/><rect x="815" y="219" width="3" height="17" fill="#ff0000"/><rect x="816" y="220" width="1" height="15" fill="#ff4500"/><rect x="820" y="206" width="1" height="15" fill="#ff0000"/><rect x="819" y="207" width="3" height="12" fill="#ff0000"/><rect x="820" y="208" width="1" height="10" fill="#ff4500"/><rect x="824" y="202" width="1" height="22" fill="#ff0000"/><rect x="823" y="208" width="3" height="8" fill="#ff0000"/><rect x="824" y="209" width="1" height="6" fill="#ff4500"/><rect x="828" y="203" width="1" height="16" fill="#32cd32"/><rect x="827" y="207" width="3" height="9" fill="#32cd32"/><rect x="832" y="197" width="1" height="28" fill="#ff0000"/><rect x="831" y="202" width="3" height="13" fill="#ff0000"/><rect x="832" y="203" width="1" height="11" fill="#ff4500"/><rect x="836" y="169" width="1" height="35" fill="#ff0000"/><rect x="835" y="180" width="3" height="23" fill="#ff0000"/><rect x="836" y="181" width="1" height="21" fill="#ff4500"/><rect x="840" y="180" width="1" height="16" fill="#32cd32"/><rect x="839" y="180" width="3" height="11" fill="#32cd32"/><rect x="844" y="172" width="1" height="21" fill="#ff0000"/><rect x="843" y="175" width="3" height="17" fill="#ff0000"/><rect x="844" y="176" width="1" height="15" fill="#ff4500"/><rect x="848" y="173" width="1" height="16" fill="#32cd32"/><rect x="847" y="175" width="3" height="5" fill="#32cd32"/><rect x="852" y="169" width="1" height="13" fill="#ff0000"/><rect x="851" y="180" width="3" height="1" fill="#ff0000"/><rect x="856" y="140" width="1" height="43" fill="#ff0000"/><rect x="855" y="153" width="3" height="29" fill="#ff0000"/><rect x="856" y="154" width="1" height="27" fill="#ff4500"/><rect x="860" y="136" width="1" height="22" fill="#ff0000"/><rect x="859" y="147" width="3" height="6" fill="#ff0000"/><rect x="860" y="148" width="1" height="4" fill="#ff4500"/><rect x="864" y="126" width="1" height="23" fill="#ff0000"/><rect x="863" y="144" width="3" height="4" fill="#ff0000"/><rect x="864" y="145" width="1" height="2" fill="#ff4500"/><rect x="868" y="127" width="1" height="20" fill="#ff0000"/><rect x="867" y="129" width="3" height="16" fill="#ff0000"/><rect x="868" y="130" width="1" height="14" fill="#ff4500"/><rect x="872" y="121" width="1" height="14" fill="#ff0000"/><rect x="871" y="127" width="3" height="3" fill="#ff0000"/><rect x="872" y="128" width="1" height="1" fill="#ff4500"/><rect x="876" y="124" width="1" height="12" fill="#32cd32"/><rect x="875" y="127" width="3" height="3" fill="#32cd32"/><rect x="880" y="104" width="1" height="37" fill="#ff0000"/><rect x="879" y="120" width="3" height="11" fill="#ff0000"/><rect x="880" y="121" width="1" height="9" fill="#ff4500"/><rect x="884" y="118" width="1" height="35" fill="#32cd32"/><rect x="883" y="120" width="3" height="31" fill="#32cd32"/><rect x="888" y="119" width="1" height="45" fill="#ff0000"/><rect x="887" y="121" width="3" height="30" fill="#ff0000"/><rect x="888" y="122" width="1" height="28" fill="#ff4500"/><rect x="892" y="106" width="1" height="25" fill="#32cd32"/><rect x="891" y="121" width="3" height="6" fill="#32cd32"/><rect x="896" y="116" width="1" height="17" fill="#ff0000"/><rect x="895" y="123" width="3" height="5" fill="#ff0000"/><rect x="896" y="124" width="1" height="3" fill="#ff4500"/><rect x="900" y="117" width="1" height="12" fill="#32cd32"/><rect x="899" y="122" width="3" height="1" fill="#32cd32"/><rect x="904" y="110" width="1" height="26" fill="#ff0000"/><rect x="903" y="122" width="3" height="1" fill="#ff0000"/><rect x="908" y="115" width="1" height="42" fill="#32cd32"/><rect x="907" y="122" width="3" height="31" fill="#32cd32"/><rect x="912" y="100" width="1" height="54" fill="#ff0000"/><rect x="911" y="120" width="3" height="33" fill="#ff0000"/><rect x="912" y="121" width="1" height="31" fill="#ff4500"/><rect x="916" y="84" width="1" height="37" fill="#ff0000"/><rect x="915" y="91" width="3" height="29" fill="#ff0000"/><rect x="916" y="92" width="1" height="27" fill="#ff4500"/><rect x="920" y="86" width="1" height="14" fill="#ff0000"/><rect x="919" y="88" width="3" height="2" fill="#ff0000"/><rect x="924" y="86" width="1" height="4" fill="#ff0000"/><rect x="923" y="86" width="3" height="3" fill="#ff0000"/><rect x="924" y="87" width="1" height="1" fill="#ff4500"/></g>
<rect x="1168" y="42" width="39" height="11" fill="#ff0000"/>
<text x="1172" y="51" font-size="9.5" fill="#fff" stroke="#fff" stroke-width="0.2" text-anchor="start" font-weight="normal" textLength="33.0" lengthAdjust="spacingAndGlyphs">1.24852</text>
<rect x="1168" y="81" width="39" height="11" fill="#000000"/>
<text x="1172" y="90" font-size="9.5" fill="#fff" stroke="#fff" stroke-width="0.2" text-anchor="start" font-weight="normal" textLength="33.0" lengthAdjust="spacingAndGlyphs">1.24425</text>
<rect x="1168" y="126" width="39" height="11" fill="#ff0000"/>
<text x="1172" y="135" font-size="9.5" fill="#fff" stroke="#fff" stroke-width="0.2" text-anchor="start" font-weight="normal" textLength="33.0" lengthAdjust="spacingAndGlyphs">1.23906</text>
<rect x="1168" y="206" width="39" height="11" fill="#00ff00"/>
<text x="1172" y="215" font-size="9.5" fill="#fff" stroke="#fff" stroke-width="0.2" text-anchor="start" font-weight="normal" textLength="33.0" lengthAdjust="spacingAndGlyphs">1.23005</text>
<rect x="1168" y="277" width="39" height="11" fill="#0000ff"/>
<text x="1172" y="286" font-size="9.5" fill="#fff" stroke="#fff" stroke-width="0.2" text-anchor="start" font-weight="normal" textLength="33.0" lengthAdjust="spacingAndGlyphs">1.22205</text>
<rect x="1168" y="348" width="39" height="11" fill="#0000ff"/>
<text x="1172" y="357" font-size="9.5" fill="#fff" stroke="#fff" stroke-width="0.2" text-anchor="start" font-weight="normal" textLength="33.0" lengthAdjust="spacingAndGlyphs">1.21406</text>
<path d="M7 36 L10.5 32 L14 36 Z" fill="#000"/>
<text x="18.7" y="37" font-size="9.5" fill="#000" stroke="#000" stroke-width="0.2" text-anchor="start" font-weight="normal" textLength="56.6" lengthAdjust="spacingAndGlyphs">USDCAD,H4</text>
<text x="80.8" y="37" font-size="9.5" fill="#000" stroke="#000" stroke-width="0.2" text-anchor="start" font-weight="normal" textLength="32.8" lengthAdjust="spacingAndGlyphs">1.24407</text>
<text x="116.7" y="37" font-size="9.5" fill="#000" stroke="#000" stroke-width="0.2" text-anchor="start" font-weight="normal" textLength="32.9" lengthAdjust="spacingAndGlyphs">1.24425</text>
<text x="152.70000000000002" y="37" font-size="9.5" fill="#000" stroke="#000" stroke-width="0.2" text-anchor="start" font-weight="normal" textLength="32.9" lengthAdjust="spacingAndGlyphs">1.24397</text>
<text x="188.60000000000002" y="37" font-size="9.5" fill="#000" stroke="#000" stroke-width="0.2" text-anchor="start" font-weight="normal" textLength="33.5" lengthAdjust="spacingAndGlyphs">1.24425</text>
<g shape-rendering="crispEdges"><rect x="3" y="536" width="3" height="32" fill="#c0c0c0"/><rect x="7" y="536" width="3" height="31" fill="#c0c0c0"/><rect x="11" y="536" width="3" height="31" fill="#c0c0c0"/><rect x="15" y="536" width="3" height="29" fill="#c0c0c0"/><rect x="19" y="536" width="3" height="29" fill="#c0c0c0"/><rect x="23" y="536" width="3" height="28" fill="#c0c0c0"/><rect x="27" y="536" width="3" height="27" fill="#c0c0c0"/><rect x="31" y="536" width="3" height="25" fill="#c0c0c0"/><rect x="35" y="536" width="3" height="22" fill="#c0c0c0"/><rect x="39" y="536" width="3" height="22" fill="#c0c0c0"/><rect x="43" y="536" width="3" height="22" fill="#c0c0c0"/><rect x="47" y="536" width="3" height="20" fill="#c0c0c0"/><rect x="51" y="536" width="3" height="18" fill="#c0c0c0"/><rect x="55" y="536" width="3" height="16" fill="#c0c0c0"/><rect x="59" y="536" width="3" height="14" fill="#c0c0c0"/><rect x="63" y="536" width="3" height="12" fill="#c0c0c0"/><rect x="67" y="536" width="3" height="10" fill="#c0c0c0"/><rect x="71" y="536" width="3" height="8" fill="#c0c0c0"/><rect x="75" y="536" width="3" height="6" fill="#c0c0c0"/><rect x="79" y="536" width="3" height="3" fill="#c0c0c0"/><rect x="83" y="536" width="3" height="1" fill="#c0c0c0"/><rect x="87" y="536" width="3" height="1" fill="#c0c0c0"/><rect x="91" y="536" width="3" height="4" fill="#c0c0c0"/><rect x="95" y="536" width="3" height="4" fill="#c0c0c0"/><rect x="99" y="536" width="3" height="5" fill="#c0c0c0"/><rect x="103" y="536" width="3" height="5" fill="#c0c0c0"/><rect x="107" y="536" width="3" height="5" fill="#c0c0c0"/><rect x="111" y="536" width="3" height="6" fill="#c0c0c0"/><rect x="115" y="536" width="3" height="7" fill="#c0c0c0"/><rect x="119" y="536" width="3" height="9" fill="#c0c0c0"/><rect x="123" y="536" width="3" height="10" fill="#c0c0c0"/><rect x="127" y="536" width="3" height="12" fill="#c0c0c0"/><rect x="131" y="536" width="3" height="14" fill="#c0c0c0"/><rect x="135" y="536" width="3" height="15" fill="#c0c0c0"/><rect x="139" y="536" width="3" height="15" fill="#c0c0c0"/><rect x="143" y="536" width="3" height="15" fill="#c0c0c0"/><rect x="147" y="536" width="3" height="14" fill="#c0c0c0"/><rect x="151" y="536" width="3" height="13" fill="#c0c0c0"/><rect x="155" y="536" width="3" height="13" fill="#c0c0c0"/><rect x="159" y="536" width="3" height="11" fill="#c0c0c0"/><rect x="163" y="536" width="3" height="10" fill="#c0c0c0"/><rect x="167" y="536" width="3" height="9" fill="#c0c0c0"/><rect x="171" y="536" width="3" height="6" fill="#c0c0c0"/><rect x="175" y="536" width="3" height="4" fill="#c0c0c0"/><rect x="179" y="536" width="3" height="2" fill="#c0c0c0"/><rect x="183" y="535" width="3" height="1" fill="#c0c0c0"/><rect x="187" y="536" width="3" height="2" fill="#c0c0c0"/><rect x="191" y="536" width="3" height="4" fill="#c0c0c0"/><rect x="195" y="536" width="3" height="5" fill="#c0c0c0"/><rect x="199" y="536" width="3" height="5" fill="#c0c0c0"/><rect x="203" y="536" width="3" height="5" fill="#c0c0c0"/><rect x="207" y="536" width="3" height="6" fill="#c0c0c0"/><rect x="211" y="536" width="3" height="7" fill="#c0c0c0"/><rect x="215" y="536" width="3" height="6" fill="#c0c0c0"/><rect x="219" y="536" width="3" height="6" fill="#c0c0c0"/><rect x="223" y="536" width="3" height="6" fill="#c0c0c0"/><rect x="227" y="536" width="3" height="6" fill="#c0c0c0"/><rect x="231" y="536" width="3" height="6" fill="#c0c0c0"/><rect x="235" y="536" width="3" height="5" fill="#c0c0c0"/><rect x="239" y="536" width="3" height="4" fill="#c0c0c0"/><rect x="243" y="536" width="3" height="6" fill="#c0c0c0"/><rect x="247" y="536" width="3" height="6" fill="#c0c0c0"/><rect x="251" y="536" width="3" height="7" fill="#c0c0c0"/><rect x="255" y="536" width="3" height="7" fill="#c0c0c0"/><rect x="259" y="536" width="3" height="7" fill="#c0c0c0"/><rect x="263" y="536" width="3" height="6" fill="#c0c0c0"/><rect x="267" y="536" width="3" height="5" fill="#c0c0c0"/><rect x="271" y="536" width="3" height="5" fill="#c0c0c0"/><rect x="275" y="536" width="3" height="5" fill="#c0c0c0"/><rect x="279" y="536" width="3" height="4" fill="#c0c0c0"/><rect x="283" y="536" width="3" height="2" fill="#c0c0c0"/><rect x="287" y="534" width="3" height="2" fill="#c0c0c0"/><rect x="291" y="533" width="3" height="3" fill="#c0c0c0"/><rect x="295" y="530" width="3" height="6" fill="#c0c0c0"/><rect x="299" y="530" width="3" height="6" fill="#c0c0c0"/><rect x="303" y="529" width="3" height="7" fill="#c0c0c0"/><rect x="307" y="530" width="3" height="6" fill="#c0c0c0"/><rect x="311" y="532" width="3" height="4" fill="#c0c0c0"/><rect x="315" y="533" width="3" height="3" fill="#c0c0c0"/><rect x="319" y="534" width="3" height="2" fill="#c0c0c0"/><rect x="323" y="534" width="3" height="2" fill="#c0c0c0"/><rect x="327" y="533" width="3" height="3" fill="#c0c0c0"/><rect x="331" y="534" width="3" height="2" fill="#c0c0c0"/><rect x="335" y="534" width="3" height="2" fill="#c0c0c0"/><rect x="339" y="535" width="3" height="1" fill="#c0c0c0"/><rect x="343" y="535" width="3" height="1" fill="#c0c0c0"/><rect x="347" y="535" width="3" height="1" fill="#c0c0c0"/><rect x="351" y="536" width="3" height="2" fill="#c0c0c0"/><rect x="355" y="536" width="3" height="2" fill="#c0c0c0"/><rect x="359" y="536" width="3" height="2" fill="#c0c0c0"/><rect x="363" y="536" width="3" height="3" fill="#c0c0c0"/><rect x="367" y="536" width="3" height="4" fill="#c0c0c0"/><rect x="371" y="536" width="3" height="5" fill="#c0c0c0"/><rect x="375" y="536" width="3" height="5" fill="#c0c0c0"/><rect x="379" y="536" width="3" height="7" fill="#c0c0c0"/><rect x="383" y="536" width="3" height="8" fill="#c0c0c0"/><rect x="387" y="536" width="3" height="7" fill="#c0c0c0"/><rect x="391" y="536" width="3" height="6" fill="#c0c0c0"/><rect x="395" y="536" width="3" height="5" fill="#c0c0c0"/><rect x="399" y="536" width="3" height="4" fill="#c0c0c0"/><rect x="403" y="536" width="3" height="4" fill="#c0c0c0"/><rect x="407" y="536" width="3" height="4" fill="#c0c0c0"/><rect x="411" y="536" width="3" height="5" fill="#c0c0c0"/><rect x="415" y="536" width="3" height="6" fill="#c0c0c0"/><rect x="419" y="536" width="3" height="6" fill="#c0c0c0"/><rect x="423" y="536" width="3" height="5" fill="#c0c0c0"/><rect x="427" y="536" width="3" height="2" fill="#c0c0c0"/><rect x="431" y="534" width="3" height="2" fill="#c0c0c0"/><rect x="435" y="533" width="3" height="3" fill="#c0c0c0"/><rect x="439" y="531" width="3" height="5" fill="#c0c0c0"/><rect x="443" y="529" width="3" height="7" fill="#c0c0c0"/><rect x="447" y="528" width="3" height="8" fill="#c0c0c0"/><rect x="451" y="530" width="3" height="6" fill="#c0c0c0"/><rect x="455" y="530" width="3" height="6" fill="#c0c0c0"/><rect x="459" y="532" width="3" height="4" fill="#c0c0c0"/><rect x="463" y="532" width="3" height="4" fill="#c0c0c0"/><rect x="467" y="532" width="3" height="4" fill="#c0c0c0"/><rect x="471" y="532" width="3" height="4" fill="#c0c0c0"/><rect x="475" y="533" width="3" height="3" fill="#c0c0c0"/><rect x="479" y="535" width="3" height="1" fill="#c0c0c0"/><rect x="483" y="535" width="3" height="1" fill="#c0c0c0"/><rect x="487" y="535" width="3" height="1" fill="#c0c0c0"/><rect x="491" y="535" width="3" height="1" fill="#c0c0c0"/><rect x="495" y="535" width="3" height="1" fill="#c0c0c0"/><rect x="499" y="534" width="3" height="2" fill="#c0c0c0"/><rect x="503" y="534" width="3" height="2" fill="#c0c0c0"/><rect x="507" y="533" width="3" height="3" fill="#c0c0c0"/><rect x="511" y="532" width="3" height="4" fill="#c0c0c0"/><rect x="515" y="532" width="3" height="4" fill="#c0c0c0"/><rect x="519" y="533" width="3" height="3" fill="#c0c0c0"/><rect x="523" y="534" width="3" height="2" fill="#c0c0c0"/><rect x="527" y="534" width="3" height="2" fill="#c0c0c0"/><rect x="531" y="533" width="3" height="3" fill="#c0c0c0"/><rect x="535" y="532" width="3" height="4" fill="#c0c0c0"/><rect x="539" y="532" width="3" height="4" fill="#c0c0c0"/><rect x="543" y="532" width="3" height="4" fill="#c0c0c0"/><rect x="547" y="532" width="3" height="4" fill="#c0c0c0"/><rect x="551" y="533" width="3" height="3" fill="#c0c0c0"/><rect x="555" y="533" width="3" height="3" fill="#c0c0c0"/><rect x="559" y="534" width="3" height="2" fill="#c0c0c0"/><rect x="563" y="535" width="3" height="1" fill="#c0c0c0"/><rect x="567" y="535" width="3" height="1" fill="#c0c0c0"/><rect x="571" y="533" width="3" height="3" fill="#c0c0c0"/><rect x="575" y="531" width="3" height="5" fill="#c0c0c0"/><rect x="579" y="528" width="3" height="8" fill="#c0c0c0"/><rect x="583" y="527" width="3" height="9" fill="#c0c0c0"/><rect x="587" y="527" width="3" height="9" fill="#c0c0c0"/><rect x="591" y="526" width="3" height="10" fill="#c0c0c0"/><rect x="595" y="527" width="3" height="9" fill="#c0c0c0"/><rect x="599" y="527" width="3" height="9" fill="#c0c0c0"/><rect x="603" y="528" width="3" height="8" fill="#c0c0c0"/><rect x="607" y="527" width="3" height="9" fill="#c0c0c0"/><rect x="611" y="528" width="3" height="8" fill="#c0c0c0"/><rect x="615" y="527" width="3" height="9" fill="#c0c0c0"/><rect x="619" y="526" width="3" height="10" fill="#c0c0c0"/><rect x="623" y="524" width="3" height="12" fill="#c0c0c0"/><rect x="627" y="523" width="3" height="13" fill="#c0c0c0"/><rect x="631" y="523" width="3" height="13" fill="#c0c0c0"/><rect x="635" y="524" width="3" height="12" fill="#c0c0c0"/><rect x="639" y="524" width="3" height="12" fill="#c0c0c0"/><rect x="643" y="524" width="3" height="12" fill="#c0c0c0"/><rect x="647" y="525" width="3" height="11" fill="#c0c0c0"/><rect x="651" y="522" width="3" height="14" fill="#c0c0c0"/><rect x="655" y="518" width="3" height="18" fill="#c0c0c0"/><rect x="659" y="516" width="3" height="20" fill="#c0c0c0"/><rect x="663" y="512" width="3" height="24" fill="#c0c0c0"/><rect x="667" y="509" width="3" height="27" fill="#c0c0c0"/><rect x="671" y="506" width="3" height="30" fill="#c0c0c0"/><rect x="675" y="503" width="3" height="33" fill="#c0c0c0"/><rect x="679" y="502" width="3" height="34" fill="#c0c0c0"/><rect x="683" y="500" width="3" height="36" fill="#c0c0c0"/><rect x="687" y="500" width="3" height="36" fill="#c0c0c0"/><rect x="691" y="498" width="3" height="38" fill="#c0c0c0"/><rect x="695" y="495" width="3" height="41" fill="#c0c0c0"/><rect x="699" y="494" width="3" height="42" fill="#c0c0c0"/><rect x="703" y="493" width="3" height="43" fill="#c0c0c0"/><rect x="707" y="492" width="3" height="44" fill="#c0c0c0"/><rect x="711" y="493" width="3" height="43" fill="#c0c0c0"/><rect x="715" y="497" width="3" height="39" fill="#c0c0c0"/><rect x="719" y="500" width="3" height="36" fill="#c0c0c0"/><rect x="723" y="504" width="3" height="32" fill="#c0c0c0"/><rect x="727" y="507" width="3" height="29" fill="#c0c0c0"/><rect x="731" y="509" width="3" height="27" fill="#c0c0c0"/><rect x="735" y="510" width="3" height="26" fill="#c0c0c0"/><rect x="739" y="512" width="3" height="24" fill="#c0c0c0"/><rect x="743" y="515" width="3" height="21" fill="#c0c0c0"/><rect x="747" y="520" width="3" height="16" fill="#c0c0c0"/><rect x="751" y="523" width="3" height="13" fill="#c0c0c0"/><rect x="755" y="526" width="3" height="10" fill="#c0c0c0"/><rect x="759" y="530" width="3" height="6" fill="#c0c0c0"/><rect x="763" y="534" width="3" height="2" fill="#c0c0c0"/><rect x="767" y="536" width="3" height="2" fill="#c0c0c0"/><rect x="771" y="536" width="3" height="2" fill="#c0c0c0"/><rect x="775" y="536" width="3" height="3" fill="#c0c0c0"/><rect x="779" y="536" width="3" height="4" fill="#c0c0c0"/><rect x="783" y="536" width="3" height="4" fill="#c0c0c0"/><rect x="787" y="536" width="3" height="5" fill="#c0c0c0"/><rect x="791" y="536" width="3" height="3" fill="#c0c0c0"/><rect x="795" y="536" width="3" height="3" fill="#c0c0c0"/><rect x="799" y="536" width="3" height="3" fill="#c0c0c0"/><rect x="803" y="536" width="3" height="3" fill="#c0c0c0"/><rect x="807" y="536" width="3" height="3" fill="#c0c0c0"/><rect x="811" y="536" width="3" height="5" fill="#c0c0c0"/><rect x="815" y="536" width="3" height="6" fill="#c0c0c0"/><rect x="819" y="536" width="3" height="5" fill="#c0c0c0"/><rect x="823" y="536" width="3" height="5" fill="#c0c0c0"/><rect x="827" y="536" width="3" height="5" fill="#c0c0c0"/><rect x="831" y="536" width="3" height="4" fill="#c0c0c0"/><rect x="835" y="536" width="3" height="3" fill="#c0c0c0"/><rect x="839" y="536" width="3" height="2" fill="#c0c0c0"/><rect x="843" y="535" width="3" height="1" fill="#c0c0c0"/><rect x="847" y="534" width="3" height="2" fill="#c0c0c0"/><rect x="851" y="534" width="3" height="2" fill="#c0c0c0"/><rect x="855" y="532" width="3" height="4" fill="#c0c0c0"/><rect x="859" y="530" width="3" height="6" fill="#c0c0c0"/><rect x="863" y="528" width="3" height="8" fill="#c0c0c0"/><rect x="867" y="526" width="3" height="10" fill="#c0c0c0"/><rect x="871" y="525" width="3" height="11" fill="#c0c0c0"/><rect x="875" y="524" width="3" height="12" fill="#c0c0c0"/><rect x="879" y="523" width="3" height="13" fill="#c0c0c0"/><rect x="883" y="524" width="3" height="12" fill="#c0c0c0"/><rect x="887" y="523" width="3" height="13" fill="#c0c0c0"/><rect x="891" y="523" width="3" height="13" fill="#c0c0c0"/><rect x="895" y="523" width="3" height="13" fill="#c0c0c0"/><rect x="899" y="523" width="3" height="13" fill="#c0c0c0"/><rect x="903" y="523" width="3" height="13" fill="#c0c0c0"/><rect x="907" y="525" width="3" height="11" fill="#c0c0c0"/><rect x="911" y="525" width="3" height="11" fill="#c0c0c0"/><rect x="915" y="523" width="3" height="13" fill="#c0c0c0"/><rect x="919" y="522" width="3" height="14" fill="#c0c0c0"/><rect x="923" y="521" width="3" height="15" fill="#c0c0c0"/><polyline points="4,564.4 8,565.0 12,565.5 16,565.7 20,565.8 24,565.6 28,565.2 32,564.5 36,563.3 40,562.1 44,561.1 48,559.9 52,558.6 56,557.2 60,555.6 64,553.9 68,552.3 72,550.8 76,549.0 80,546.9 84,544.8 88,543.0 92,541.6 96,540.5 100,539.8 104,539.1 108,538.8 112,538.8 116,539.3 120,540.1 124,541.1 128,542.0 132,543.1 136,544.2 140,545.4 144,546.5 148,547.5 152,548.2 156,548.6 160,548.6 164,548.4 168,547.8 172,546.8 176,545.4 180,544.1 184,542.5 188,541.2 192,540.2 196,539.6 200,539.0 204,538.6 208,538.7 212,539.0 216,539.4 220,540.1 224,540.5 228,540.8 232,540.9 236,540.9 240,540.8 244,540.7 248,540.7 252,540.7 256,540.8 260,541.0 264,540.9 268,540.9 272,540.8 276,540.9 280,540.7 284,540.2 288,539.4 292,538.4 296,537.1 300,535.9 304,534.7 308,533.6 312,532.7 316,532.0 320,531.7 324,531.6 328,531.7 332,532.1 336,532.6 340,533.2 344,533.8 348,534.3 352,534.6 356,534.9 360,535.3 364,535.8 368,536.3 372,536.9 376,537.5 380,538.3 384,539.0 388,539.6 392,540.1 396,540.4 400,540.6 404,540.6 408,540.6 412,540.6 416,540.5 420,540.2 424,540.0 428,539.6 432,539.0 436,538.3 440,537.5 444,536.3 448,535.0 452,533.8 456,532.6 460,531.7 464,531.1 468,530.8 472,530.8 476,531.0 480,531.6 484,532.3 488,532.8 492,533.3 496,533.7 500,533.9 504,534.1 508,534.1 512,534.0 516,533.7 520,533.5 524,533.4 528,533.4 532,533.2 536,532.9 540,532.7 544,532.6 548,532.6 552,532.7 556,532.8 560,532.8 564,532.9 568,533.1 572,533.2 576,533.1 580,532.7 584,532.2 588,531.5 592,530.7 596,529.8 600,529.0 604,528.2 608,527.6 612,527.3 616,527.1 620,527.0 624,526.7 628,526.4 632,526.0 636,525.6 640,525.1 644,524.8 648,524.4 652,523.8 656,523.0 660,522.1 664,520.9 668,519.3 672,517.3 676,515.0 680,512.6 684,509.8 688,507.4 692,505.2 696,502.9 700,500.9 704,499.1 708,497.6 712,496.5 716,495.8 720,495.8 724,496.3 728,497.3 732,498.7 736,500.5 740,502.6 744,505.2 748,508.2 752,511.1 756,514.0 760,516.8 764,519.9 768,523.0 772,526.0 776,528.9 780,531.5 784,533.7 788,535.6 792,536.9 796,537.8 800,538.2 804,538.4 808,538.5 812,538.8 816,539.0 820,539.1 824,539.1 828,539.3 832,539.5 836,539.4 840,539.3 844,538.9 848,538.3 852,537.5 856,536.6 860,535.5 864,534.2 868,532.7 872,531.3 876,529.9 880,528.5 884,527.4 888,526.2 892,525.2 896,524.5 900,523.9 904,523.5 908,523.5 912,523.6 916,523.6 920,523.4 924,523.1" fill="none" stroke="#ff0000" stroke-width="1"/></g>
<text x="7.6000000000000005" y="500" font-size="9.5" fill="#000" stroke="#000" stroke-width="0.2" text-anchor="start" font-weight="normal" textLength="65.9" lengthAdjust="spacingAndGlyphs">MACD(12,26,9)</text>
<text x="76.2" y="500" font-size="9.5" fill="#000" stroke="#000" stroke-width="0.2" text-anchor="start" font-weight="normal" textLength="38.9" lengthAdjust="spacingAndGlyphs">0.002474</text>
<text x="117.7" y="500" font-size="9.5" fill="#000" stroke="#000" stroke-width="0.2" text-anchor="start" font-weight="normal" textLength="38.1" lengthAdjust="spacingAndGlyphs">0.002137</text>
<rect x="1167" y="488" width="3" height="1" fill="#000"/>
<text x="1170" y="498" font-size="9.5" fill="#000" stroke="#000" stroke-width="0.2" text-anchor="start" font-weight="normal" textLength="38.0" lengthAdjust="spacingAndGlyphs">0.007959</text>
<rect x="1167" y="536" width="3" height="1" fill="#000"/>
<text x="1170" y="540" font-size="9.5" fill="#000" stroke="#000" stroke-width="0.2" text-anchor="start" font-weight="normal" textLength="19.0" lengthAdjust="spacingAndGlyphs">0.00</text>
<rect x="1167" y="570" width="3" height="1" fill="#000"/>
<text x="1170" y="568" font-size="9.5" fill="#000" stroke="#000" stroke-width="0.2" text-anchor="start" font-weight="normal" textLength="38.0" lengthAdjust="spacingAndGlyphs">-0.00566</text>
<rect x="4" y="600" width="1162" height="1" fill="url(#dash)"/>
<rect x="4" y="634" width="1162" height="1" fill="url(#dash)"/>
<g shape-rendering="crispEdges"><polyline points="4,638.6 8,635.0 12,636.5 16,632.0 20,635.1 24,631.8 28,631.0 32,626.7 36,624.0 40,629.8 44,632.4 48,623.8 52,618.4 56,622.6 60,617.5 64,617.2 68,619.6 72,615.1 76,612.8 80,611.6 84,612.5 88,617.6 92,625.5 96,620.8 100,621.5 104,619.2 108,621.8 112,621.3 116,626.4 120,626.9 124,628.0 128,630.5 132,630.9 136,632.4 140,627.6 144,625.1 148,624.8 152,622.0 156,623.6 160,618.5 164,621.0 168,617.2 172,610.6 176,611.7 180,614.4 184,610.2 188,621.4 192,625.2 196,623.6 200,620.4 204,620.0 208,623.9 212,622.7 216,619.2 220,621.3 224,619.1 228,620.6 232,621.1 236,619.1 240,616.4 244,624.5 248,622.9 252,623.8 256,624.6 260,619.6 264,616.9 268,618.1 272,620.1 276,622.3 280,615.4 284,608.9 288,608.4 292,607.4 296,605.4 300,609.0 304,610.7 308,618.2 312,619.7 316,622.2 320,617.3 324,615.9 328,614.3 332,618.0 336,616.3 340,619.0 344,621.1 348,618.9 352,621.6 356,617.8 360,620.5 364,621.0 368,625.6 372,624.4 376,624.8 380,631.7 384,626.9 388,616.6 392,618.9 396,616.5 400,615.2 404,619.1 408,622.3 412,625.0 416,623.1 420,620.3 424,617.8 428,608.3 432,606.5 436,610.5 440,607.1 444,606.9 448,606.7 452,619.2 456,615.8 460,618.8 464,616.0 468,614.7 472,617.4 476,618.2 480,621.8 484,617.6 488,616.4 492,615.5 496,616.9 500,614.4 504,612.9 508,609.7 512,612.6 516,613.1 520,617.7 524,624.0 528,614.3 532,611.9 536,611.2 540,612.5 544,613.5 548,618.2 552,617.0 556,617.5 560,619.5 564,619.8 568,615.6 572,609.5 576,602.8 580,602.0 584,607.6 588,607.1 592,606.4 596,613.2 600,613.8 604,610.9 608,609.6 612,614.8 616,605.5 620,607.1 624,602.7 628,607.1 632,608.6 636,609.1 640,608.0 644,609.2 648,614.0 652,599.7 656,597.8 660,600.8 664,596.0 668,595.4 672,593.6 676,593.3 680,596.5 684,594.1 688,596.6 692,594.2 696,591.5 700,594.5 704,593.0 708,592.2 712,600.8 716,608.4 720,610.3 724,612.3 728,609.9 732,608.7 736,608.5 740,610.2 744,613.4 748,622.2 752,619.5 756,620.4 760,623.8 764,628.4 768,623.6 772,619.8 776,620.3 780,619.6 784,621.4 788,620.7 792,614.4 796,617.3 800,618.2 804,619.9 808,619.7 812,625.4 816,621.1 820,618.6 824,618.7 828,620.5 832,617.4 836,612.6 840,615.4 844,612.0 848,613.5 852,613.3 856,608.1 860,607.1 864,606.5 868,603.8 872,603.5 876,604.7 880,602.8 884,612.6 888,606.9 892,608.6 896,607.8 900,607.8 904,607.6 908,616.9 912,609.8 916,604.9 920,604.6 924,604.2" fill="none" stroke="#1e90ff" stroke-width="1"/></g>
<text x="7.6000000000000005" y="586" font-size="9.5" fill="#000" stroke="#000" stroke-width="0.2" text-anchor="start" font-weight="normal" textLength="31.6" lengthAdjust="spacingAndGlyphs">RSI(14)</text>
<text x="42.4" y="586" font-size="9.5" fill="#000" stroke="#000" stroke-width="0.2" text-anchor="start" font-weight="normal" textLength="33.3" lengthAdjust="spacingAndGlyphs">65.5771</text>
<text x="1170" y="584" font-size="9.5" fill="#000" stroke="#000" stroke-width="0.2" text-anchor="start" font-weight="normal" textLength="16.0" lengthAdjust="spacingAndGlyphs">100</text>
<text x="1170" y="604" font-size="9.5" fill="#000" stroke="#000" stroke-width="0.2" text-anchor="start" font-weight="normal" textLength="11.0" lengthAdjust="spacingAndGlyphs">70</text>
<text x="1170" y="638" font-size="9.5" fill="#000" stroke="#000" stroke-width="0.2" text-anchor="start" font-weight="normal" textLength="11.0" lengthAdjust="spacingAndGlyphs">30</text>
<text x="1170" y="657" font-size="9.5" fill="#000" stroke="#000" stroke-width="0.2" text-anchor="start" font-weight="normal" textLength="6.0" lengthAdjust="spacingAndGlyphs">0</text>
<rect x="4" y="661" width="1" height="3" fill="#000"/>
<text x="3.5" y="673" font-size="9.5" fill="#000" stroke="#000" stroke-width="0.2" text-anchor="start" font-weight="normal" textLength="54.4" lengthAdjust="spacingAndGlyphs">11 May 2021</text>
<rect x="68" y="661" width="1" height="3" fill="#000"/>
<text x="67.5" y="673" font-size="9.5" fill="#000" stroke="#000" stroke-width="0.2" text-anchor="start" font-weight="normal" textLength="58.0" lengthAdjust="spacingAndGlyphs">13 May 18:00</text>
<rect x="132" y="661" width="1" height="3" fill="#000"/>
<text x="131.5" y="673" font-size="9.5" fill="#000" stroke="#000" stroke-width="0.2" text-anchor="start" font-weight="normal" textLength="58.0" lengthAdjust="spacingAndGlyphs">18 May 10:00</text>
<rect x="196" y="661" width="1" height="3" fill="#000"/>
<text x="195.5" y="673" font-size="9.5" fill="#000" stroke="#000" stroke-width="0.2" text-anchor="start" font-weight="normal" textLength="58.0" lengthAdjust="spacingAndGlyphs">21 May 00:00</text>
<rect x="260" y="661" width="1" height="3" fill="#000"/>
<text x="259.5" y="673" font-size="9.5" fill="#000" stroke="#000" stroke-width="0.2" text-anchor="start" font-weight="normal" textLength="58.0" lengthAdjust="spacingAndGlyphs">25 May 18:00</text>
<rect x="324" y="661" width="1" height="3" fill="#000"/>
<text x="323.5" y="673" font-size="9.5" fill="#000" stroke="#000" stroke-width="0.2" text-anchor="start" font-weight="normal" textLength="58.0" lengthAdjust="spacingAndGlyphs">28 May 10:00</text>
<rect x="388" y="661" width="1" height="3" fill="#000"/>
<text x="387.5" y="673" font-size="9.5" fill="#000" stroke="#000" stroke-width="0.2" text-anchor="start" font-weight="normal" textLength="48.2" lengthAdjust="spacingAndGlyphs">2 Jun 00:00</text>
<rect x="452" y="661" width="1" height="3" fill="#000"/>
<text x="451.5" y="673" font-size="9.5" fill="#000" stroke="#000" stroke-width="0.2" text-anchor="start" font-weight="normal" textLength="48.3" lengthAdjust="spacingAndGlyphs">4 Jun 18:00</text>
<rect x="516" y="661" width="1" height="3" fill="#000"/>
<text x="515.5" y="673" font-size="9.5" fill="#000" stroke="#000" stroke-width="0.2" text-anchor="start" font-weight="normal" textLength="48.3" lengthAdjust="spacingAndGlyphs">9 Jun 10:00</text>
<rect x="580" y="661" width="1" height="3" fill="#000"/>
<text x="579.5" y="673" font-size="9.5" fill="#000" stroke="#000" stroke-width="0.2" text-anchor="start" font-weight="normal" textLength="53.2" lengthAdjust="spacingAndGlyphs">12 Jun 00:00</text>
<rect x="644" y="661" width="1" height="3" fill="#000"/>
<text x="643.5" y="673" font-size="9.5" fill="#000" stroke="#000" stroke-width="0.2" text-anchor="start" font-weight="normal" textLength="53.2" lengthAdjust="spacingAndGlyphs">16 Jun 18:00</text>
<rect x="708" y="661" width="1" height="3" fill="#000"/>
<text x="707.5" y="673" font-size="9.5" fill="#000" stroke="#000" stroke-width="0.2" text-anchor="start" font-weight="normal" textLength="53.2" lengthAdjust="spacingAndGlyphs">21 Jun 11:00</text>
<rect x="772" y="661" width="1" height="3" fill="#000"/>
<text x="771.5" y="673" font-size="9.5" fill="#000" stroke="#000" stroke-width="0.2" text-anchor="start" font-weight="normal" textLength="53.5" lengthAdjust="spacingAndGlyphs">24 Jun 00:00</text>
<rect x="836" y="661" width="1" height="3" fill="#000"/>
<text x="835.5" y="673" font-size="9.5" fill="#000" stroke="#000" stroke-width="0.2" text-anchor="start" font-weight="normal" textLength="53.2" lengthAdjust="spacingAndGlyphs">28 Jun 19:00</text>
<rect x="900" y="661" width="1" height="3" fill="#000"/>
<text x="899.5" y="673" font-size="9.5" fill="#000" stroke="#000" stroke-width="0.2" text-anchor="start" font-weight="normal" textLength="45.7" lengthAdjust="spacingAndGlyphs">1 Jul 10:00</text>
<rect x="5" y="43" width="223" height="61" fill="#fff"/>
<rect x="7" y="45" width="52" height="57" fill="#0000a8"/>
<rect x="8" y="46" width="50" height="23" fill="url(#gtop)"/>
<rect x="7" y="69" width="110" height="33" fill="#0a0aa8"/>
<rect x="8" y="69" width="108" height="32" fill="url(#gbot)"/>
<rect x="11" y="69" width="44" height="1" fill="#8c8cff"/>
<text x="20" y="61" font-size="11" fill="#eaeaff" text-anchor="start" font-weight="normal" textLength="26.0" lengthAdjust="spacingAndGlyphs">SELL</text>
<text x="27" y="97" font-size="12" fill="#fff" text-anchor="start" font-weight="bold" textLength="24.5" lengthAdjust="spacingAndGlyphs">1.24</text>
<text x="53.5" y="97" font-size="33" fill="#fff" text-anchor="start" font-weight="normal" textLength="36.0" lengthAdjust="spacingAndGlyphs">42</text>
<text x="94" y="81" font-size="11" fill="#fff" text-anchor="start" font-weight="bold" textLength="8.0" lengthAdjust="spacingAndGlyphs">8</text>
<rect x="174" y="45" width="52" height="57" fill="#0000a8"/>
<rect x="175" y="46" width="50" height="23" fill="url(#gtop)"/>
<rect x="118" y="69" width="108" height="33" fill="#0a0aa8"/>
<rect x="119" y="69" width="106" height="32" fill="url(#gbot)"/>
<rect x="178" y="69" width="44" height="1" fill="#8c8cff"/>
<text x="187.5" y="61" font-size="11" fill="#eaeaff" text-anchor="start" font-weight="normal" textLength="24.5" lengthAdjust="spacingAndGlyphs">BUY</text>
<text x="138" y="97" font-size="12" fill="#fff" text-anchor="start" font-weight="bold" textLength="24.0" lengthAdjust="spacingAndGlyphs">1.24</text>
<text x="164.5" y="97" font-size="33" fill="#fff" text-anchor="start" font-weight="normal" textLength="36.0" lengthAdjust="spacingAndGlyphs">44</text>
<text x="205" y="81" font-size="11" fill="#fff" text-anchor="start" font-weight="bold" textLength="8.0" lengthAdjust="spacingAndGlyphs">3</text>
<rect x="61.5" y="45.5" width="110" height="21" fill="#fff" stroke="#a8a8a8"/>
<rect x="63" y="47" width="19" height="19" fill="url(#gbtn)"/>
<rect x="82" y="46" width="1" height="20" fill="#b8b8b8"/>
<rect x="151" y="46" width="1" height="20" fill="#b8b8b8"/>
<rect x="152" y="47" width="19" height="19" fill="url(#gbtn)"/>
<path d="M69 54 L75 54 L72 57 Z" fill="#5a6a9a"/>
<path d="M158 58 L164 58 L161 55 Z" fill="#5a6a9a"/>
<text x="123" y="59" font-size="11" fill="#000" text-anchor="start" font-weight="normal" textLength="24.0" lengthAdjust="spacingAndGlyphs">3.00</text>
<rect x="0" y="681" width="1207" height="1" fill="#dcdcdc"/>
<rect x="0" y="683" width="1207" height="1" fill="#000"/>
<rect x="0" y="684" width="1207" height="19" fill="#f0f0f0"/>
<rect x="0" y="684" width="1" height="19" fill="#6e6e6e"/>
<rect x="0" y="707" width="1207" height="1" fill="#a0a0a0"/>
<path d="M289.5 683 V701.5 H380.5 V683" fill="#fff" stroke="#000"/>
<rect x="290" y="683" width="90" height="1" fill="#fff"/>
<text x="16.8" y="698" font-size="12" fill="#6e6e6e" text-anchor="start" font-weight="normal" textLength="68.5" lengthAdjust="spacingAndGlyphs">EURUSD,H4</text>
<rect x="97" y="686" width="1" height="14" fill="#606060"/>
<text x="107.8" y="698" font-size="12" fill="#6e6e6e" text-anchor="start" font-weight="normal" textLength="82.7" lengthAdjust="spacingAndGlyphs">AUDUSD,Daily</text>
<rect x="201" y="686" width="1" height="14" fill="#606060"/>
<text x="211.3" y="698" font-size="12" fill="#6e6e6e" text-anchor="start" font-weight="normal" textLength="67.1" lengthAdjust="spacingAndGlyphs">USDCHF,H4</text>
<text x="300.4" y="698" font-size="12" fill="#000" text-anchor="start" font-weight="normal" textLength="68.6" lengthAdjust="spacingAndGlyphs">USDCAD,H4</text>
<text x="390.8" y="698" font-size="12" fill="#6e6e6e" text-anchor="start" font-weight="normal" textLength="83.5" lengthAdjust="spacingAndGlyphs">USDCNH,Daily</text>
<rect x="485" y="686" width="1" height="14" fill="#606060"/>
<text x="497.0" y="698" font-size="12" fill="#6e6e6e" text-anchor="start" font-weight="normal" textLength="52.5" lengthAdjust="spacingAndGlyphs">UKOil,H1</text>
<rect x="561" y="686" width="1" height="14" fill="#606060"/>
<text x="571.0" y="698" font-size="12" fill="#6e6e6e" text-anchor="start" font-weight="normal" textLength="47.0" lengthAdjust="spacingAndGlyphs">DJ30,H1</text>
<rect x="629" y="686" width="1" height="14" fill="#606060"/>
<text x="640.5" y="698" font-size="12" fill="#6e6e6e" text-anchor="start" font-weight="normal" textLength="52.7" lengthAdjust="spacingAndGlyphs">USDX,H1</text>
<rect x="705" y="686" width="1" height="14" fill="#606060"/>
<text x="715.5" y="698" font-size="12" fill="#6e6e6e" text-anchor="start" font-weight="normal" textLength="69.8" lengthAdjust="spacingAndGlyphs">XAUUSD,H1</text>
<rect x="797" y="686" width="1" height="14" fill="#606060"/>
<path d="M1180 692 L1184 688 L1184 696 Z" fill="#a0a0a0"/>
<path d="M1205 692 L1201 688 L1201 696 Z" fill="#a0a0a0"/>
</svg>
</body></html>
